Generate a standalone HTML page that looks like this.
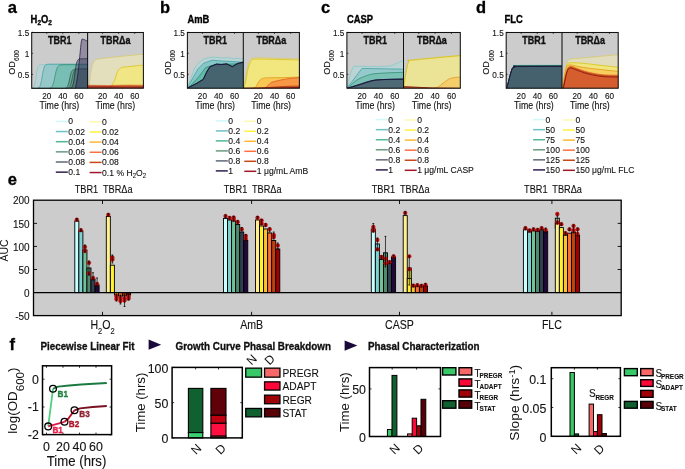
<!DOCTYPE html><html><head><meta charset="utf-8"><style>html,body{margin:0;padding:0;background:#fff;width:685px;height:469px;overflow:hidden}svg{display:block;will-change:transform}</style></head><body><svg width="685" height="469" viewBox="0 0 685 469" font-family="Liberation Sans, sans-serif">
<rect x="0.00" y="0.00" width="685.00" height="469.00" fill="#fff" stroke="none" stroke-width="0" />
<text transform="translate(7.80,12.50) scale(1,1.0)" font-size="16.5" text-anchor="start" font-weight="bold" fill="#000" stroke="#000" stroke-width="0.3" >a</text>
<text transform="translate(30.60,22.80) scale(1,1.15)" font-size="9.4" text-anchor="start" font-weight="bold" fill="#000" stroke="#000" stroke-width="0.3" >H<tspan font-size="6.5" dy="2">2</tspan><tspan dy="-2">O</tspan><tspan font-size="6.5" dy="2">2</tspan></text>
<rect x="31.70" y="32.50" width="111.70" height="55.70" fill="#cccccc" stroke="none" stroke-width="0" />
<clipPath id="clip31a"><rect x="31.7" y="32.5" width="55.89999999999999" height="55.7"/></clipPath>
<clipPath id="clip31b"><rect x="87.6" y="32.5" width="55.80000000000001" height="55.7"/></clipPath>
<g clip-path="url(#clip31a)">
<path d="M30.70,89.20 L30.70,88.53 L31.12,88.49 L31.53,88.43 L31.94,88.34 L32.36,88.19 L32.77,87.97 L33.18,87.62 L33.60,87.10 L34.01,86.33 L34.42,85.23 L34.84,83.71 L35.25,81.73 L35.66,79.34 L36.08,76.69 L36.49,74.04 L36.90,71.63 L37.32,69.62 L37.73,68.06 L38.15,66.93 L38.56,66.14 L38.97,65.61 L39.39,65.25 L39.80,65.02 L40.21,64.87 L40.63,64.77 L41.04,64.70 L41.45,64.66 L41.87,64.63 L42.28,64.61 L42.69,64.60 L43.11,64.59 L43.52,64.58 L43.94,64.58 L44.35,64.57 L44.76,64.57 L45.18,64.57 L45.59,64.56 L46.00,64.56 L46.42,64.56 L46.83,64.56 L47.24,64.55 L47.66,64.55 L48.07,64.55 L48.48,64.54 L48.90,64.54 L49.31,64.54 L49.72,64.54 L50.14,64.53 L50.55,64.53 L50.97,64.53 L51.38,64.53 L51.79,64.52 L52.21,64.52 L52.62,64.52 L53.03,64.52 L53.45,64.51 L53.86,64.51 L54.27,64.51 L54.69,64.51 L55.10,64.50 L55.51,64.50 L55.93,64.50 L56.34,64.50 L56.76,64.49 L57.17,64.49 L57.58,64.49 L58.00,64.49 L58.41,64.48 L58.82,64.48 L59.24,64.48 L59.65,64.48 L60.06,64.47 L60.48,64.47 L60.89,64.47 L61.30,64.46 L61.72,64.46 L62.13,64.46 L62.54,64.46 L62.96,64.45 L63.37,64.45 L63.79,64.45 L64.20,64.45 L64.61,64.44 L65.03,64.44 L65.44,64.44 L65.85,64.44 L66.27,64.43 L66.68,64.43 L67.09,64.43 L67.51,64.43 L67.92,64.42 L68.33,64.42 L68.75,64.42 L69.16,64.42 L69.58,64.41 L69.99,64.41 L70.40,64.41 L70.82,64.41 L71.23,64.40 L71.64,64.40 L72.06,64.40 L72.47,64.39 L72.88,64.39 L73.30,64.39 L73.71,64.39 L74.12,64.38 L74.54,64.38 L74.95,64.38 L75.36,64.38 L75.78,64.37 L76.19,64.37 L76.61,64.37 L77.02,64.37 L77.43,64.36 L77.85,64.36 L78.26,64.36 L78.67,64.36 L79.09,64.35 L79.50,64.35 L79.91,64.35 L80.33,64.35 L80.74,64.34 L81.15,64.34 L81.57,64.34 L81.98,64.34 L82.40,64.33 L82.81,64.33 L83.22,64.33 L83.64,64.32 L84.05,64.32 L84.46,64.32 L84.88,64.32 L85.29,64.31 L85.70,64.31 L86.12,64.31 L86.53,64.31 L86.94,64.30 L87.36,64.30 L87.77,64.30 L88.18,64.30 L88.60,64.29 L88.60,89.20 Z" fill="#a8dcdc" fill-opacity="0.42" stroke="none"/>
<path d="M30.70,88.53 L31.12,88.49 L31.53,88.43 L31.94,88.34 L32.36,88.19 L32.77,87.97 L33.18,87.62 L33.60,87.10 L34.01,86.33 L34.42,85.23 L34.84,83.71 L35.25,81.73 L35.66,79.34 L36.08,76.69 L36.49,74.04 L36.90,71.63 L37.32,69.62 L37.73,68.06 L38.15,66.93 L38.56,66.14 L38.97,65.61 L39.39,65.25 L39.80,65.02 L40.21,64.87 L40.63,64.77 L41.04,64.70 L41.45,64.66 L41.87,64.63 L42.28,64.61 L42.69,64.60 L43.11,64.59 L43.52,64.58 L43.94,64.58 L44.35,64.57 L44.76,64.57 L45.18,64.57 L45.59,64.56 L46.00,64.56 L46.42,64.56 L46.83,64.56 L47.24,64.55 L47.66,64.55 L48.07,64.55 L48.48,64.54 L48.90,64.54 L49.31,64.54 L49.72,64.54 L50.14,64.53 L50.55,64.53 L50.97,64.53 L51.38,64.53 L51.79,64.52 L52.21,64.52 L52.62,64.52 L53.03,64.52 L53.45,64.51 L53.86,64.51 L54.27,64.51 L54.69,64.51 L55.10,64.50 L55.51,64.50 L55.93,64.50 L56.34,64.50 L56.76,64.49 L57.17,64.49 L57.58,64.49 L58.00,64.49 L58.41,64.48 L58.82,64.48 L59.24,64.48 L59.65,64.48 L60.06,64.47 L60.48,64.47 L60.89,64.47 L61.30,64.46 L61.72,64.46 L62.13,64.46 L62.54,64.46 L62.96,64.45 L63.37,64.45 L63.79,64.45 L64.20,64.45 L64.61,64.44 L65.03,64.44 L65.44,64.44 L65.85,64.44 L66.27,64.43 L66.68,64.43 L67.09,64.43 L67.51,64.43 L67.92,64.42 L68.33,64.42 L68.75,64.42 L69.16,64.42 L69.58,64.41 L69.99,64.41 L70.40,64.41 L70.82,64.41 L71.23,64.40 L71.64,64.40 L72.06,64.40 L72.47,64.39 L72.88,64.39 L73.30,64.39 L73.71,64.39 L74.12,64.38 L74.54,64.38 L74.95,64.38 L75.36,64.38 L75.78,64.37 L76.19,64.37 L76.61,64.37 L77.02,64.37 L77.43,64.36 L77.85,64.36 L78.26,64.36 L78.67,64.36 L79.09,64.35 L79.50,64.35 L79.91,64.35 L80.33,64.35 L80.74,64.34 L81.15,64.34 L81.57,64.34 L81.98,64.34 L82.40,64.33 L82.81,64.33 L83.22,64.33 L83.64,64.32 L84.05,64.32 L84.46,64.32 L84.88,64.32 L85.29,64.31 L85.70,64.31 L86.12,64.31 L86.53,64.31 L86.94,64.30 L87.36,64.30 L87.77,64.30 L88.18,64.30 L88.60,64.29" fill="none" stroke="#7cc8c8" stroke-width="0.7" stroke-linejoin="round"/>
<path d="M30.70,89.20 L30.70,88.60 L31.12,88.60 L31.53,88.60 L31.94,88.60 L32.36,88.60 L32.77,88.60 L33.18,88.60 L33.60,88.59 L34.01,88.59 L34.42,88.59 L34.84,88.58 L35.25,88.57 L35.66,88.56 L36.08,88.54 L36.49,88.51 L36.90,88.46 L37.32,88.39 L37.73,88.29 L38.15,88.14 L38.56,87.91 L38.97,87.58 L39.39,87.11 L39.80,86.43 L40.21,85.49 L40.63,84.21 L41.04,82.57 L41.45,80.56 L41.87,78.25 L42.28,75.81 L42.69,73.40 L43.11,71.23 L43.52,69.39 L43.94,67.93 L44.35,66.82 L44.76,66.02 L45.18,65.44 L45.59,65.04 L46.00,64.77 L46.42,64.58 L46.83,64.46 L47.24,64.37 L47.66,64.32 L48.07,64.28 L48.48,64.25 L48.90,64.23 L49.31,64.22 L49.72,64.22 L50.14,64.21 L50.55,64.21 L50.97,64.20 L51.38,64.20 L51.79,64.20 L52.21,64.20 L52.62,64.20 L53.03,64.20 L53.45,64.20 L53.86,64.20 L54.27,64.20 L54.69,64.20 L55.10,64.20 L55.51,64.20 L55.93,64.20 L56.34,64.20 L56.76,64.20 L57.17,64.20 L57.58,64.20 L58.00,64.20 L58.41,64.20 L58.82,64.20 L59.24,64.20 L59.65,64.20 L60.06,64.20 L60.48,64.20 L60.89,64.20 L61.30,64.20 L61.72,64.20 L62.13,64.20 L62.54,64.20 L62.96,64.20 L63.37,64.20 L63.79,64.20 L64.20,64.20 L64.61,64.20 L65.03,64.20 L65.44,64.20 L65.85,64.20 L66.27,64.20 L66.68,64.20 L67.09,64.20 L67.51,64.20 L67.92,64.20 L68.33,64.20 L68.75,64.20 L69.16,64.20 L69.58,64.20 L69.99,64.20 L70.40,64.20 L70.82,64.20 L71.23,64.20 L71.64,64.20 L72.06,64.20 L72.47,64.20 L72.88,64.20 L73.30,64.20 L73.71,64.20 L74.12,64.20 L74.54,64.20 L74.95,64.20 L75.36,64.20 L75.78,64.20 L76.19,64.20 L76.61,64.20 L77.02,64.20 L77.43,64.20 L77.85,64.20 L78.26,64.20 L78.67,64.20 L79.09,64.20 L79.50,64.20 L79.91,64.20 L80.33,64.20 L80.74,64.20 L81.15,64.20 L81.57,64.20 L81.98,64.20 L82.40,64.20 L82.81,64.20 L83.22,64.20 L83.64,64.20 L84.05,64.20 L84.46,64.20 L84.88,64.20 L85.29,64.20 L85.70,64.20 L86.12,64.20 L86.53,64.20 L86.94,64.20 L87.36,64.20 L87.77,64.20 L88.18,64.20 L88.60,64.20 L88.60,89.20 Z" fill="#50b8bc" fill-opacity="0.35" stroke="none"/>
<path d="M30.70,88.60 L31.12,88.60 L31.53,88.60 L31.94,88.60 L32.36,88.60 L32.77,88.60 L33.18,88.60 L33.60,88.59 L34.01,88.59 L34.42,88.59 L34.84,88.58 L35.25,88.57 L35.66,88.56 L36.08,88.54 L36.49,88.51 L36.90,88.46 L37.32,88.39 L37.73,88.29 L38.15,88.14 L38.56,87.91 L38.97,87.58 L39.39,87.11 L39.80,86.43 L40.21,85.49 L40.63,84.21 L41.04,82.57 L41.45,80.56 L41.87,78.25 L42.28,75.81 L42.69,73.40 L43.11,71.23 L43.52,69.39 L43.94,67.93 L44.35,66.82 L44.76,66.02 L45.18,65.44 L45.59,65.04 L46.00,64.77 L46.42,64.58 L46.83,64.46 L47.24,64.37 L47.66,64.32 L48.07,64.28 L48.48,64.25 L48.90,64.23 L49.31,64.22 L49.72,64.22 L50.14,64.21 L50.55,64.21 L50.97,64.20 L51.38,64.20 L51.79,64.20 L52.21,64.20 L52.62,64.20 L53.03,64.20 L53.45,64.20 L53.86,64.20 L54.27,64.20 L54.69,64.20 L55.10,64.20 L55.51,64.20 L55.93,64.20 L56.34,64.20 L56.76,64.20 L57.17,64.20 L57.58,64.20 L58.00,64.20 L58.41,64.20 L58.82,64.20 L59.24,64.20 L59.65,64.20 L60.06,64.20 L60.48,64.20 L60.89,64.20 L61.30,64.20 L61.72,64.20 L62.13,64.20 L62.54,64.20 L62.96,64.20 L63.37,64.20 L63.79,64.20 L64.20,64.20 L64.61,64.20 L65.03,64.20 L65.44,64.20 L65.85,64.20 L66.27,64.20 L66.68,64.20 L67.09,64.20 L67.51,64.20 L67.92,64.20 L68.33,64.20 L68.75,64.20 L69.16,64.20 L69.58,64.20 L69.99,64.20 L70.40,64.20 L70.82,64.20 L71.23,64.20 L71.64,64.20 L72.06,64.20 L72.47,64.20 L72.88,64.20 L73.30,64.20 L73.71,64.20 L74.12,64.20 L74.54,64.20 L74.95,64.20 L75.36,64.20 L75.78,64.20 L76.19,64.20 L76.61,64.20 L77.02,64.20 L77.43,64.20 L77.85,64.20 L78.26,64.20 L78.67,64.20 L79.09,64.20 L79.50,64.20 L79.91,64.20 L80.33,64.20 L80.74,64.20 L81.15,64.20 L81.57,64.20 L81.98,64.20 L82.40,64.20 L82.81,64.20 L83.22,64.20 L83.64,64.20 L84.05,64.20 L84.46,64.20 L84.88,64.20 L85.29,64.20 L85.70,64.20 L86.12,64.20 L86.53,64.20 L86.94,64.20 L87.36,64.20 L87.77,64.20 L88.18,64.20 L88.60,64.20" fill="none" stroke="#3a9aa0" stroke-width="0.7" stroke-linejoin="round"/>
<path d="M30.70,89.20 L30.70,88.60 L31.12,88.60 L31.53,88.60 L31.94,88.60 L32.36,88.60 L32.77,88.60 L33.18,88.60 L33.60,88.60 L34.01,88.60 L34.42,88.60 L34.84,88.60 L35.25,88.60 L35.66,88.60 L36.08,88.60 L36.49,88.60 L36.90,88.60 L37.32,88.60 L37.73,88.60 L38.15,88.60 L38.56,88.60 L38.97,88.60 L39.39,88.60 L39.80,88.60 L40.21,88.60 L40.63,88.60 L41.04,88.60 L41.45,88.60 L41.87,88.60 L42.28,88.60 L42.69,88.60 L43.11,88.60 L43.52,88.60 L43.94,88.60 L44.35,88.60 L44.76,88.59 L45.18,88.59 L45.59,88.59 L46.00,88.58 L46.42,88.58 L46.83,88.57 L47.24,88.56 L47.66,88.54 L48.07,88.51 L48.48,88.48 L48.90,88.43 L49.31,88.36 L49.72,88.27 L50.14,88.14 L50.55,87.96 L50.97,87.71 L51.38,87.36 L51.79,86.90 L52.21,86.27 L52.62,85.46 L53.03,84.41 L53.45,83.10 L53.86,81.53 L54.27,79.74 L54.69,77.78 L55.10,75.76 L55.51,73.79 L55.93,71.98 L56.34,70.40 L56.76,69.07 L57.17,68.01 L57.58,67.18 L58.00,66.54 L58.41,66.07 L58.82,65.71 L59.24,65.46 L59.65,65.27 L60.06,65.13 L60.48,65.03 L60.89,64.96 L61.30,64.91 L61.72,64.87 L62.13,64.84 L62.54,64.81 L62.96,64.80 L63.37,64.78 L63.79,64.77 L64.20,64.76 L64.61,64.75 L65.03,64.75 L65.44,64.74 L65.85,64.74 L66.27,64.73 L66.68,64.73 L67.09,64.72 L67.51,64.72 L67.92,64.71 L68.33,64.71 L68.75,64.70 L69.16,64.70 L69.58,64.69 L69.99,64.69 L70.40,64.68 L70.82,64.68 L71.23,64.68 L71.64,64.67 L72.06,64.67 L72.47,64.66 L72.88,64.66 L73.30,64.65 L73.71,64.65 L74.12,64.64 L74.54,64.64 L74.95,64.64 L75.36,64.63 L75.78,64.63 L76.19,64.62 L76.61,64.62 L77.02,64.61 L77.43,64.61 L77.85,64.60 L78.26,64.60 L78.67,64.60 L79.09,64.59 L79.50,64.59 L79.91,64.58 L80.33,64.58 L80.74,64.57 L81.15,64.57 L81.57,64.56 L81.98,64.56 L82.40,64.56 L82.81,64.55 L83.22,64.55 L83.64,64.54 L84.05,64.54 L84.46,64.53 L84.88,64.53 L85.29,64.52 L85.70,64.52 L86.12,64.52 L86.53,64.51 L86.94,64.51 L87.36,64.50 L87.77,64.50 L88.18,64.49 L88.60,64.49 L88.60,89.20 Z" fill="#38a880" fill-opacity="0.3" stroke="none"/>
<path d="M30.70,88.60 L31.12,88.60 L31.53,88.60 L31.94,88.60 L32.36,88.60 L32.77,88.60 L33.18,88.60 L33.60,88.60 L34.01,88.60 L34.42,88.60 L34.84,88.60 L35.25,88.60 L35.66,88.60 L36.08,88.60 L36.49,88.60 L36.90,88.60 L37.32,88.60 L37.73,88.60 L38.15,88.60 L38.56,88.60 L38.97,88.60 L39.39,88.60 L39.80,88.60 L40.21,88.60 L40.63,88.60 L41.04,88.60 L41.45,88.60 L41.87,88.60 L42.28,88.60 L42.69,88.60 L43.11,88.60 L43.52,88.60 L43.94,88.60 L44.35,88.60 L44.76,88.59 L45.18,88.59 L45.59,88.59 L46.00,88.58 L46.42,88.58 L46.83,88.57 L47.24,88.56 L47.66,88.54 L48.07,88.51 L48.48,88.48 L48.90,88.43 L49.31,88.36 L49.72,88.27 L50.14,88.14 L50.55,87.96 L50.97,87.71 L51.38,87.36 L51.79,86.90 L52.21,86.27 L52.62,85.46 L53.03,84.41 L53.45,83.10 L53.86,81.53 L54.27,79.74 L54.69,77.78 L55.10,75.76 L55.51,73.79 L55.93,71.98 L56.34,70.40 L56.76,69.07 L57.17,68.01 L57.58,67.18 L58.00,66.54 L58.41,66.07 L58.82,65.71 L59.24,65.46 L59.65,65.27 L60.06,65.13 L60.48,65.03 L60.89,64.96 L61.30,64.91 L61.72,64.87 L62.13,64.84 L62.54,64.81 L62.96,64.80 L63.37,64.78 L63.79,64.77 L64.20,64.76 L64.61,64.75 L65.03,64.75 L65.44,64.74 L65.85,64.74 L66.27,64.73 L66.68,64.73 L67.09,64.72 L67.51,64.72 L67.92,64.71 L68.33,64.71 L68.75,64.70 L69.16,64.70 L69.58,64.69 L69.99,64.69 L70.40,64.68 L70.82,64.68 L71.23,64.68 L71.64,64.67 L72.06,64.67 L72.47,64.66 L72.88,64.66 L73.30,64.65 L73.71,64.65 L74.12,64.64 L74.54,64.64 L74.95,64.64 L75.36,64.63 L75.78,64.63 L76.19,64.62 L76.61,64.62 L77.02,64.61 L77.43,64.61 L77.85,64.60 L78.26,64.60 L78.67,64.60 L79.09,64.59 L79.50,64.59 L79.91,64.58 L80.33,64.58 L80.74,64.57 L81.15,64.57 L81.57,64.56 L81.98,64.56 L82.40,64.56 L82.81,64.55 L83.22,64.55 L83.64,64.54 L84.05,64.54 L84.46,64.53 L84.88,64.53 L85.29,64.52 L85.70,64.52 L86.12,64.52 L86.53,64.51 L86.94,64.51 L87.36,64.50 L87.77,64.50 L88.18,64.49 L88.60,64.49" fill="none" stroke="#2a8a68" stroke-width="0.7" stroke-linejoin="round"/>
<path d="M30.70,89.20 L30.70,88.60 L31.12,88.60 L31.53,88.60 L31.94,88.60 L32.36,88.60 L32.77,88.60 L33.18,88.60 L33.60,88.60 L34.01,88.60 L34.42,88.60 L34.84,88.60 L35.25,88.60 L35.66,88.60 L36.08,88.60 L36.49,88.60 L36.90,88.60 L37.32,88.60 L37.73,88.60 L38.15,88.60 L38.56,88.60 L38.97,88.60 L39.39,88.60 L39.80,88.60 L40.21,88.60 L40.63,88.60 L41.04,88.60 L41.45,88.60 L41.87,88.60 L42.28,88.60 L42.69,88.60 L43.11,88.60 L43.52,88.60 L43.94,88.60 L44.35,88.60 L44.76,88.60 L45.18,88.60 L45.59,88.60 L46.00,88.60 L46.42,88.60 L46.83,88.60 L47.24,88.60 L47.66,88.60 L48.07,88.60 L48.48,88.60 L48.90,88.60 L49.31,88.60 L49.72,88.60 L50.14,88.60 L50.55,88.60 L50.97,88.60 L51.38,88.60 L51.79,88.60 L52.21,88.60 L52.62,88.60 L53.03,88.60 L53.45,88.60 L53.86,88.60 L54.27,88.60 L54.69,88.60 L55.10,88.60 L55.51,88.60 L55.93,88.60 L56.34,88.60 L56.76,88.60 L57.17,88.60 L57.58,88.60 L58.00,88.60 L58.41,88.60 L58.82,88.60 L59.24,88.60 L59.65,88.60 L60.06,88.60 L60.48,88.60 L60.89,88.60 L61.30,88.59 L61.72,88.59 L62.13,88.59 L62.54,88.58 L62.96,88.57 L63.37,88.56 L63.79,88.54 L64.20,88.50 L64.61,88.46 L65.03,88.39 L65.44,88.28 L65.85,88.13 L66.27,87.90 L66.68,87.57 L67.09,87.10 L67.51,86.44 L67.92,85.53 L68.33,84.34 L68.75,82.85 L69.16,81.09 L69.58,79.17 L69.99,77.23 L70.40,75.41 L70.82,73.84 L71.23,72.57 L71.64,71.59 L72.06,70.86 L72.47,70.34 L72.88,69.98 L73.30,69.73 L73.71,69.55 L74.12,69.43 L74.54,69.35 L74.95,69.29 L75.36,69.25 L75.78,69.22 L76.19,69.20 L76.61,69.18 L77.02,69.17 L77.43,69.16 L77.85,69.15 L78.26,69.14 L78.67,69.13 L79.09,69.12 L79.50,69.12 L79.91,69.11 L80.33,69.10 L80.74,69.10 L81.15,69.09 L81.57,69.09 L81.98,69.08 L82.40,69.07 L82.81,69.07 L83.22,69.06 L83.64,69.06 L84.05,69.05 L84.46,69.04 L84.88,69.04 L85.29,69.03 L85.70,69.03 L86.12,69.02 L86.53,69.02 L86.94,69.01 L87.36,69.00 L87.77,69.00 L88.18,68.99 L88.60,68.99 L88.60,89.20 Z" fill="#4e8a6c" fill-opacity="0.45" stroke="none"/>
<path d="M30.70,88.60 L31.12,88.60 L31.53,88.60 L31.94,88.60 L32.36,88.60 L32.77,88.60 L33.18,88.60 L33.60,88.60 L34.01,88.60 L34.42,88.60 L34.84,88.60 L35.25,88.60 L35.66,88.60 L36.08,88.60 L36.49,88.60 L36.90,88.60 L37.32,88.60 L37.73,88.60 L38.15,88.60 L38.56,88.60 L38.97,88.60 L39.39,88.60 L39.80,88.60 L40.21,88.60 L40.63,88.60 L41.04,88.60 L41.45,88.60 L41.87,88.60 L42.28,88.60 L42.69,88.60 L43.11,88.60 L43.52,88.60 L43.94,88.60 L44.35,88.60 L44.76,88.60 L45.18,88.60 L45.59,88.60 L46.00,88.60 L46.42,88.60 L46.83,88.60 L47.24,88.60 L47.66,88.60 L48.07,88.60 L48.48,88.60 L48.90,88.60 L49.31,88.60 L49.72,88.60 L50.14,88.60 L50.55,88.60 L50.97,88.60 L51.38,88.60 L51.79,88.60 L52.21,88.60 L52.62,88.60 L53.03,88.60 L53.45,88.60 L53.86,88.60 L54.27,88.60 L54.69,88.60 L55.10,88.60 L55.51,88.60 L55.93,88.60 L56.34,88.60 L56.76,88.60 L57.17,88.60 L57.58,88.60 L58.00,88.60 L58.41,88.60 L58.82,88.60 L59.24,88.60 L59.65,88.60 L60.06,88.60 L60.48,88.60 L60.89,88.60 L61.30,88.59 L61.72,88.59 L62.13,88.59 L62.54,88.58 L62.96,88.57 L63.37,88.56 L63.79,88.54 L64.20,88.50 L64.61,88.46 L65.03,88.39 L65.44,88.28 L65.85,88.13 L66.27,87.90 L66.68,87.57 L67.09,87.10 L67.51,86.44 L67.92,85.53 L68.33,84.34 L68.75,82.85 L69.16,81.09 L69.58,79.17 L69.99,77.23 L70.40,75.41 L70.82,73.84 L71.23,72.57 L71.64,71.59 L72.06,70.86 L72.47,70.34 L72.88,69.98 L73.30,69.73 L73.71,69.55 L74.12,69.43 L74.54,69.35 L74.95,69.29 L75.36,69.25 L75.78,69.22 L76.19,69.20 L76.61,69.18 L77.02,69.17 L77.43,69.16 L77.85,69.15 L78.26,69.14 L78.67,69.13 L79.09,69.12 L79.50,69.12 L79.91,69.11 L80.33,69.10 L80.74,69.10 L81.15,69.09 L81.57,69.09 L81.98,69.08 L82.40,69.07 L82.81,69.07 L83.22,69.06 L83.64,69.06 L84.05,69.05 L84.46,69.04 L84.88,69.04 L85.29,69.03 L85.70,69.03 L86.12,69.02 L86.53,69.02 L86.94,69.01 L87.36,69.00 L87.77,69.00 L88.18,68.99 L88.60,68.99" fill="none" stroke="#2a4a48" stroke-width="0.7" stroke-linejoin="round"/>
<path d="M30.70,89.20 L30.70,88.60 L31.12,88.60 L31.53,88.60 L31.94,88.60 L32.36,88.60 L32.77,88.60 L33.18,88.60 L33.60,88.60 L34.01,88.60 L34.42,88.60 L34.84,88.60 L35.25,88.60 L35.66,88.60 L36.08,88.60 L36.49,88.60 L36.90,88.60 L37.32,88.60 L37.73,88.60 L38.15,88.60 L38.56,88.60 L38.97,88.60 L39.39,88.60 L39.80,88.60 L40.21,88.60 L40.63,88.60 L41.04,88.60 L41.45,88.60 L41.87,88.60 L42.28,88.60 L42.69,88.60 L43.11,88.60 L43.52,88.60 L43.94,88.60 L44.35,88.60 L44.76,88.60 L45.18,88.60 L45.59,88.60 L46.00,88.60 L46.42,88.60 L46.83,88.60 L47.24,88.60 L47.66,88.60 L48.07,88.60 L48.48,88.60 L48.90,88.60 L49.31,88.60 L49.72,88.60 L50.14,88.60 L50.55,88.60 L50.97,88.60 L51.38,88.60 L51.79,88.60 L52.21,88.60 L52.62,88.60 L53.03,88.60 L53.45,88.60 L53.86,88.60 L54.27,88.60 L54.69,88.60 L55.10,88.60 L55.51,88.60 L55.93,88.60 L56.34,88.60 L56.76,88.60 L57.17,88.60 L57.58,88.60 L58.00,88.60 L58.41,88.60 L58.82,88.60 L59.24,88.60 L59.65,88.60 L60.06,88.60 L60.48,88.60 L60.89,88.60 L61.30,88.60 L61.72,88.60 L62.13,88.60 L62.54,88.60 L62.96,88.60 L63.37,88.60 L63.79,88.59 L64.20,88.59 L64.61,88.59 L65.03,88.58 L65.44,88.57 L65.85,88.56 L66.27,88.54 L66.68,88.50 L67.09,88.46 L67.51,88.39 L67.92,88.28 L68.33,88.13 L68.75,87.90 L69.16,87.58 L69.58,87.10 L69.99,86.44 L70.40,85.53 L70.82,84.34 L71.23,82.84 L71.64,81.08 L72.06,79.14 L72.47,77.18 L72.88,75.34 L73.30,73.74 L73.71,72.44 L74.12,71.44 L74.54,70.70 L74.95,70.17 L75.36,69.80 L75.78,69.54 L76.19,69.36 L76.61,69.24 L77.02,69.15 L77.43,69.09 L77.85,69.04 L78.26,69.01 L78.67,68.99 L79.09,68.97 L79.50,68.96 L79.91,68.94 L80.33,68.93 L80.74,68.92 L81.15,68.92 L81.57,68.91 L81.98,68.90 L82.40,68.89 L82.81,68.88 L83.22,68.88 L83.64,68.87 L84.05,68.86 L84.46,68.85 L84.88,68.85 L85.29,68.84 L85.70,68.83 L86.12,68.83 L86.53,68.82 L86.94,68.81 L87.36,68.80 L87.77,68.80 L88.18,68.79 L88.60,68.78 L88.60,89.20 Z" fill="#4e8a6c" fill-opacity="0.4" stroke="none"/>
<path d="M30.70,88.60 L31.12,88.60 L31.53,88.60 L31.94,88.60 L32.36,88.60 L32.77,88.60 L33.18,88.60 L33.60,88.60 L34.01,88.60 L34.42,88.60 L34.84,88.60 L35.25,88.60 L35.66,88.60 L36.08,88.60 L36.49,88.60 L36.90,88.60 L37.32,88.60 L37.73,88.60 L38.15,88.60 L38.56,88.60 L38.97,88.60 L39.39,88.60 L39.80,88.60 L40.21,88.60 L40.63,88.60 L41.04,88.60 L41.45,88.60 L41.87,88.60 L42.28,88.60 L42.69,88.60 L43.11,88.60 L43.52,88.60 L43.94,88.60 L44.35,88.60 L44.76,88.60 L45.18,88.60 L45.59,88.60 L46.00,88.60 L46.42,88.60 L46.83,88.60 L47.24,88.60 L47.66,88.60 L48.07,88.60 L48.48,88.60 L48.90,88.60 L49.31,88.60 L49.72,88.60 L50.14,88.60 L50.55,88.60 L50.97,88.60 L51.38,88.60 L51.79,88.60 L52.21,88.60 L52.62,88.60 L53.03,88.60 L53.45,88.60 L53.86,88.60 L54.27,88.60 L54.69,88.60 L55.10,88.60 L55.51,88.60 L55.93,88.60 L56.34,88.60 L56.76,88.60 L57.17,88.60 L57.58,88.60 L58.00,88.60 L58.41,88.60 L58.82,88.60 L59.24,88.60 L59.65,88.60 L60.06,88.60 L60.48,88.60 L60.89,88.60 L61.30,88.60 L61.72,88.60 L62.13,88.60 L62.54,88.60 L62.96,88.60 L63.37,88.60 L63.79,88.59 L64.20,88.59 L64.61,88.59 L65.03,88.58 L65.44,88.57 L65.85,88.56 L66.27,88.54 L66.68,88.50 L67.09,88.46 L67.51,88.39 L67.92,88.28 L68.33,88.13 L68.75,87.90 L69.16,87.58 L69.58,87.10 L69.99,86.44 L70.40,85.53 L70.82,84.34 L71.23,82.84 L71.64,81.08 L72.06,79.14 L72.47,77.18 L72.88,75.34 L73.30,73.74 L73.71,72.44 L74.12,71.44 L74.54,70.70 L74.95,70.17 L75.36,69.80 L75.78,69.54 L76.19,69.36 L76.61,69.24 L77.02,69.15 L77.43,69.09 L77.85,69.04 L78.26,69.01 L78.67,68.99 L79.09,68.97 L79.50,68.96 L79.91,68.94 L80.33,68.93 L80.74,68.92 L81.15,68.92 L81.57,68.91 L81.98,68.90 L82.40,68.89 L82.81,68.88 L83.22,68.88 L83.64,68.87 L84.05,68.86 L84.46,68.85 L84.88,68.85 L85.29,68.84 L85.70,68.83 L86.12,68.83 L86.53,68.82 L86.94,68.81 L87.36,68.80 L87.77,68.80 L88.18,68.79 L88.60,68.78" fill="none" stroke="#2a4a48" stroke-width="0.7" stroke-linejoin="round"/>
<path d="M30.70,89.20 L30.70,88.60 L31.12,88.60 L31.53,88.60 L31.94,88.60 L32.36,88.60 L32.77,88.60 L33.18,88.60 L33.60,88.60 L34.01,88.60 L34.42,88.60 L34.84,88.60 L35.25,88.60 L35.66,88.60 L36.08,88.60 L36.49,88.60 L36.90,88.60 L37.32,88.60 L37.73,88.60 L38.15,88.60 L38.56,88.60 L38.97,88.60 L39.39,88.60 L39.80,88.60 L40.21,88.60 L40.63,88.60 L41.04,88.60 L41.45,88.60 L41.87,88.60 L42.28,88.60 L42.69,88.60 L43.11,88.60 L43.52,88.60 L43.94,88.60 L44.35,88.60 L44.76,88.60 L45.18,88.60 L45.59,88.60 L46.00,88.60 L46.42,88.60 L46.83,88.60 L47.24,88.60 L47.66,88.60 L48.07,88.60 L48.48,88.60 L48.90,88.60 L49.31,88.60 L49.72,88.60 L50.14,88.60 L50.55,88.60 L50.97,88.60 L51.38,88.60 L51.79,88.60 L52.21,88.60 L52.62,88.60 L53.03,88.60 L53.45,88.60 L53.86,88.60 L54.27,88.60 L54.69,88.60 L55.10,88.60 L55.51,88.60 L55.93,88.60 L56.34,88.60 L56.76,88.60 L57.17,88.60 L57.58,88.60 L58.00,88.60 L58.41,88.60 L58.82,88.60 L59.24,88.60 L59.65,88.60 L60.06,88.60 L60.48,88.60 L60.89,88.60 L61.30,88.60 L61.72,88.60 L62.13,88.60 L62.54,88.60 L62.96,88.60 L63.37,88.60 L63.79,88.60 L64.20,88.60 L64.61,88.60 L65.03,88.60 L65.44,88.60 L65.85,88.60 L66.27,88.60 L66.68,88.59 L67.09,88.59 L67.51,88.59 L67.92,88.58 L68.33,88.57 L68.75,88.55 L69.16,88.52 L69.58,88.48 L69.99,88.42 L70.40,88.32 L70.82,88.17 L71.23,87.95 L71.64,87.60 L72.06,87.10 L72.47,86.35 L72.88,85.27 L73.30,83.77 L73.71,81.76 L74.12,79.23 L74.54,76.28 L74.95,73.09 L75.36,69.96 L75.78,67.15 L76.19,64.82 L76.61,63.01 L77.02,61.68 L77.43,60.74 L77.85,60.09 L78.26,59.65 L78.67,59.36 L79.09,59.15 L79.50,59.02 L79.91,58.93 L80.33,58.86 L80.74,58.82 L81.15,58.79 L81.57,58.76 L81.98,58.74 L82.40,58.73 L82.81,58.71 L83.22,58.70 L83.64,58.69 L84.05,58.68 L84.46,58.67 L84.88,58.66 L85.29,58.65 L85.70,58.64 L86.12,58.63 L86.53,58.62 L86.94,58.61 L87.36,58.61 L87.77,58.60 L88.18,58.59 L88.60,58.58 L88.60,89.20 Z" fill="#4a5868" fill-opacity="0.45" stroke="none"/>
<path d="M30.70,88.60 L31.12,88.60 L31.53,88.60 L31.94,88.60 L32.36,88.60 L32.77,88.60 L33.18,88.60 L33.60,88.60 L34.01,88.60 L34.42,88.60 L34.84,88.60 L35.25,88.60 L35.66,88.60 L36.08,88.60 L36.49,88.60 L36.90,88.60 L37.32,88.60 L37.73,88.60 L38.15,88.60 L38.56,88.60 L38.97,88.60 L39.39,88.60 L39.80,88.60 L40.21,88.60 L40.63,88.60 L41.04,88.60 L41.45,88.60 L41.87,88.60 L42.28,88.60 L42.69,88.60 L43.11,88.60 L43.52,88.60 L43.94,88.60 L44.35,88.60 L44.76,88.60 L45.18,88.60 L45.59,88.60 L46.00,88.60 L46.42,88.60 L46.83,88.60 L47.24,88.60 L47.66,88.60 L48.07,88.60 L48.48,88.60 L48.90,88.60 L49.31,88.60 L49.72,88.60 L50.14,88.60 L50.55,88.60 L50.97,88.60 L51.38,88.60 L51.79,88.60 L52.21,88.60 L52.62,88.60 L53.03,88.60 L53.45,88.60 L53.86,88.60 L54.27,88.60 L54.69,88.60 L55.10,88.60 L55.51,88.60 L55.93,88.60 L56.34,88.60 L56.76,88.60 L57.17,88.60 L57.58,88.60 L58.00,88.60 L58.41,88.60 L58.82,88.60 L59.24,88.60 L59.65,88.60 L60.06,88.60 L60.48,88.60 L60.89,88.60 L61.30,88.60 L61.72,88.60 L62.13,88.60 L62.54,88.60 L62.96,88.60 L63.37,88.60 L63.79,88.60 L64.20,88.60 L64.61,88.60 L65.03,88.60 L65.44,88.60 L65.85,88.60 L66.27,88.60 L66.68,88.59 L67.09,88.59 L67.51,88.59 L67.92,88.58 L68.33,88.57 L68.75,88.55 L69.16,88.52 L69.58,88.48 L69.99,88.42 L70.40,88.32 L70.82,88.17 L71.23,87.95 L71.64,87.60 L72.06,87.10 L72.47,86.35 L72.88,85.27 L73.30,83.77 L73.71,81.76 L74.12,79.23 L74.54,76.28 L74.95,73.09 L75.36,69.96 L75.78,67.15 L76.19,64.82 L76.61,63.01 L77.02,61.68 L77.43,60.74 L77.85,60.09 L78.26,59.65 L78.67,59.36 L79.09,59.15 L79.50,59.02 L79.91,58.93 L80.33,58.86 L80.74,58.82 L81.15,58.79 L81.57,58.76 L81.98,58.74 L82.40,58.73 L82.81,58.71 L83.22,58.70 L83.64,58.69 L84.05,58.68 L84.46,58.67 L84.88,58.66 L85.29,58.65 L85.70,58.64 L86.12,58.63 L86.53,58.62 L86.94,58.61 L87.36,58.61 L87.77,58.60 L88.18,58.59 L88.60,58.58" fill="none" stroke="#1a2438" stroke-width="0.7" stroke-linejoin="round"/>
<path d="M30.70,89.20 L30.70,88.60 L35.71,88.63 L43.01,88.68 L51.48,88.74 L59.98,88.76 L67.41,88.73 L72.63,88.60 L75.39,88.46 L76.55,88.33 L76.62,88.15 L76.14,87.82 L75.63,87.27 L75.62,86.40 L76.01,85.24 L76.36,83.87 L76.68,82.27 L76.98,80.43 L77.29,78.34 L77.62,76.00 L77.96,73.26 L78.32,70.10 L78.68,66.70 L79.03,63.22 L79.38,59.83 L79.71,56.70 L80.03,53.67 L80.33,50.58 L80.62,47.58 L80.92,44.82 L81.21,42.48 L81.51,40.70 L81.81,39.60 L82.09,39.08 L82.38,38.97 L82.68,39.10 L83.02,39.30 L83.41,39.40 L83.87,39.47 L84.39,39.66 L84.94,39.92 L85.50,40.21 L86.03,40.48 L86.50,40.70 L86.93,40.87 L87.35,41.03 L87.74,41.18 L88.09,41.31 L88.38,41.42 L88.60,41.50 L88.60,89.20 Z" fill="#2a1850" fill-opacity="0.35" stroke="none"/>
<path d="M30.70,88.60 L35.71,88.63 L43.01,88.68 L51.48,88.74 L59.98,88.76 L67.41,88.73 L72.63,88.60 L75.39,88.46 L76.55,88.33 L76.62,88.15 L76.14,87.82 L75.63,87.27 L75.62,86.40 L76.01,85.24 L76.36,83.87 L76.68,82.27 L76.98,80.43 L77.29,78.34 L77.62,76.00 L77.96,73.26 L78.32,70.10 L78.68,66.70 L79.03,63.22 L79.38,59.83 L79.71,56.70 L80.03,53.67 L80.33,50.58 L80.62,47.58 L80.92,44.82 L81.21,42.48 L81.51,40.70 L81.81,39.60 L82.09,39.08 L82.38,38.97 L82.68,39.10 L83.02,39.30 L83.41,39.40 L83.87,39.47 L84.39,39.66 L84.94,39.92 L85.50,40.21 L86.03,40.48 L86.50,40.70 L86.93,40.87 L87.35,41.03 L87.74,41.18 L88.09,41.31 L88.38,41.42 L88.60,41.50" fill="none" stroke="#1a0c3a" stroke-width="0.7" stroke-linejoin="round"/>
</g>
<g clip-path="url(#clip31b)">
<path d="M86.60,89.20 L86.60,89.00 L86.85,88.80 L87.21,88.57 L87.62,88.28 L88.05,87.87 L88.46,87.29 L88.80,86.50 L89.06,85.45 L89.29,84.17 L89.49,82.72 L89.68,81.17 L89.87,79.57 L90.09,78.00 L90.33,76.36 L90.57,74.59 L90.83,72.78 L91.08,71.02 L91.33,69.39 L91.59,68.00 L91.82,66.86 L92.05,65.90 L92.27,65.08 L92.51,64.35 L92.77,63.67 L93.08,63.00 L93.42,62.34 L93.78,61.72 L94.17,61.15 L94.59,60.64 L95.06,60.19 L95.57,59.80 L95.99,59.52 L96.27,59.34 L96.60,59.22 L97.14,59.13 L98.07,59.00 L99.56,58.80 L101.64,58.53 L104.17,58.24 L107.09,57.91 L110.33,57.56 L113.82,57.19 L117.49,56.80 L121.77,56.35 L126.79,55.82 L132.07,55.27 L137.09,54.76 L141.37,54.31 L144.40,54.00 L144.40,89.20 Z" fill="#fff4a8" fill-opacity="0.45" stroke="none"/>
<path d="M86.60,89.00 L86.85,88.80 L87.21,88.57 L87.62,88.28 L88.05,87.87 L88.46,87.29 L88.80,86.50 L89.06,85.45 L89.29,84.17 L89.49,82.72 L89.68,81.17 L89.87,79.57 L90.09,78.00 L90.33,76.36 L90.57,74.59 L90.83,72.78 L91.08,71.02 L91.33,69.39 L91.59,68.00 L91.82,66.86 L92.05,65.90 L92.27,65.08 L92.51,64.35 L92.77,63.67 L93.08,63.00 L93.42,62.34 L93.78,61.72 L94.17,61.15 L94.59,60.64 L95.06,60.19 L95.57,59.80 L95.99,59.52 L96.27,59.34 L96.60,59.22 L97.14,59.13 L98.07,59.00 L99.56,58.80 L101.64,58.53 L104.17,58.24 L107.09,57.91 L110.33,57.56 L113.82,57.19 L117.49,56.80 L121.77,56.35 L126.79,55.82 L132.07,55.27 L137.09,54.76 L141.37,54.31 L144.40,54.00" fill="none" stroke="#d8c860" stroke-width="0.7" stroke-linejoin="round"/>
<path d="M86.60,89.20 L86.60,88.30 L89.33,88.29 L93.31,88.30 L97.91,88.31 L102.55,88.27 L106.62,88.18 L109.52,88.00 L111.10,87.75 L111.82,87.46 L111.96,87.11 L111.83,86.67 L111.72,86.14 L111.91,85.50 L112.39,84.71 L112.90,83.78 L113.43,82.75 L113.95,81.67 L114.45,80.57 L114.90,79.50 L115.31,78.41 L115.67,77.26 L116.02,76.09 L116.35,74.96 L116.67,73.92 L116.99,73.00 L117.31,72.23 L117.60,71.56 L117.89,70.97 L118.18,70.44 L118.51,69.96 L118.89,69.50 L119.29,69.06 L119.71,68.67 L120.15,68.33 L120.65,68.01 L121.22,67.74 L121.88,67.50 L122.53,67.32 L123.12,67.21 L123.80,67.14 L124.66,67.07 L125.84,66.97 L127.46,66.80 L129.82,66.54 L132.89,66.21 L136.28,65.86 L139.58,65.51 L142.42,65.21 L144.40,65.00 L144.40,89.20 Z" fill="#fff040" fill-opacity="0.45" stroke="none"/>
<path d="M86.60,88.30 L89.33,88.29 L93.31,88.30 L97.91,88.31 L102.55,88.27 L106.62,88.18 L109.52,88.00 L111.10,87.75 L111.82,87.46 L111.96,87.11 L111.83,86.67 L111.72,86.14 L111.91,85.50 L112.39,84.71 L112.90,83.78 L113.43,82.75 L113.95,81.67 L114.45,80.57 L114.90,79.50 L115.31,78.41 L115.67,77.26 L116.02,76.09 L116.35,74.96 L116.67,73.92 L116.99,73.00 L117.31,72.23 L117.60,71.56 L117.89,70.97 L118.18,70.44 L118.51,69.96 L118.89,69.50 L119.29,69.06 L119.71,68.67 L120.15,68.33 L120.65,68.01 L121.22,67.74 L121.88,67.50 L122.53,67.32 L123.12,67.21 L123.80,67.14 L124.66,67.07 L125.84,66.97 L127.46,66.80 L129.82,66.54 L132.89,66.21 L136.28,65.86 L139.58,65.51 L142.42,65.21 L144.40,65.00" fill="none" stroke="#d8c000" stroke-width="0.7" stroke-linejoin="round"/>
<path d="M86.60,89.20 L86.60,85.30 L107.53,85.50 L127.46,85.20 L144.40,85.30 L144.40,89.20 Z" fill="#f87038" fill-opacity="0.45" stroke="none"/>
<path d="M86.60,85.30 L107.53,85.50 L127.46,85.20 L144.40,85.30" fill="none" stroke="#d85020" stroke-width="0.7" stroke-linejoin="round"/>
<path d="M86.60,89.20 L86.60,86.00 L107.53,86.50 L127.46,86.00 L144.40,86.40 L144.40,89.20 Z" fill="#d04818" fill-opacity="0.45" stroke="none"/>
<path d="M86.60,86.00 L107.53,86.50 L127.46,86.00 L144.40,86.40" fill="none" stroke="#a83008" stroke-width="0.7" stroke-linejoin="round"/>
<path d="M86.60,89.20 L86.60,87.00 L144.40,87.20 L144.40,89.20 Z" fill="#a0142a" fill-opacity="0.45" stroke="none"/>
<path d="M86.60,87.00 L144.40,87.20" fill="none" stroke="#800010" stroke-width="0.7" stroke-linejoin="round"/>
</g>
<rect x="31.7" y="32.5" width="111.7" height="55.7" fill="none" stroke="#111" stroke-width="1.05"/>
<line x1="87.60" y1="32.50" x2="87.60" y2="88.20" stroke="#111" stroke-width="1.05" />
<line x1="46.70" y1="32.50" x2="46.70" y2="34.00" stroke="#000" stroke-width="0.6" />
<text transform="translate(46.70,98.70) scale(1,1.15)" font-size="8.2" text-anchor="middle" font-weight="normal" fill="#111" stroke="#111" stroke-width="0.1" >20</text>
<line x1="62.80" y1="32.50" x2="62.80" y2="34.00" stroke="#000" stroke-width="0.6" />
<text transform="translate(62.80,98.70) scale(1,1.15)" font-size="8.2" text-anchor="middle" font-weight="normal" fill="#111" stroke="#111" stroke-width="0.1" >40</text>
<line x1="78.90" y1="32.50" x2="78.90" y2="34.00" stroke="#000" stroke-width="0.6" />
<text transform="translate(78.90,98.70) scale(1,1.15)" font-size="8.2" text-anchor="middle" font-weight="normal" fill="#111" stroke="#111" stroke-width="0.1" >60</text>
<text transform="translate(59.45,108.60) scale(1,1.15)" font-size="8.8" text-anchor="middle" font-weight="normal" fill="#111" stroke="#111" stroke-width="0.1" >Time (hrs)</text>
<line x1="102.57" y1="32.50" x2="102.57" y2="34.00" stroke="#000" stroke-width="0.6" />
<text transform="translate(102.57,98.70) scale(1,1.15)" font-size="8.2" text-anchor="middle" font-weight="normal" fill="#111" stroke="#111" stroke-width="0.1" >20</text>
<line x1="118.64" y1="32.50" x2="118.64" y2="34.00" stroke="#000" stroke-width="0.6" />
<text transform="translate(118.64,98.70) scale(1,1.15)" font-size="8.2" text-anchor="middle" font-weight="normal" fill="#111" stroke="#111" stroke-width="0.1" >40</text>
<line x1="134.72" y1="32.50" x2="134.72" y2="34.00" stroke="#000" stroke-width="0.6" />
<text transform="translate(134.72,98.70) scale(1,1.15)" font-size="8.2" text-anchor="middle" font-weight="normal" fill="#111" stroke="#111" stroke-width="0.1" >60</text>
<text transform="translate(115.30,108.60) scale(1,1.15)" font-size="8.8" text-anchor="middle" font-weight="normal" fill="#111" stroke="#111" stroke-width="0.1" >Time (hrs)</text>
<line x1="31.70" y1="32.30" x2="33.20" y2="32.30" stroke="#000" stroke-width="0.6" />
<text transform="translate(29.20,35.90) scale(1,1.15)" font-size="8.2" text-anchor="end" font-weight="normal" fill="#111" stroke="#111" stroke-width="0.1" >1.5</text>
<line x1="31.70" y1="53.30" x2="33.20" y2="53.30" stroke="#000" stroke-width="0.6" />
<text transform="translate(29.20,56.90) scale(1,1.15)" font-size="8.2" text-anchor="end" font-weight="normal" fill="#111" stroke="#111" stroke-width="0.1" >1</text>
<line x1="31.70" y1="74.30" x2="33.20" y2="74.30" stroke="#000" stroke-width="0.6" />
<text transform="translate(29.20,77.90) scale(1,1.15)" font-size="8.2" text-anchor="end" font-weight="normal" fill="#111" stroke="#111" stroke-width="0.1" >0.5</text>
<text transform="translate(59.65,43.60) scale(1,1.15)" font-size="9" text-anchor="middle" font-weight="bold" fill="#111" stroke="#111" stroke-width="0.3" >TBR1</text>
<text transform="translate(115.50,43.60) scale(1,1.15)" font-size="9" text-anchor="middle" font-weight="bold" fill="#111" stroke="#111" stroke-width="0.3" >TBRΔa</text>
<text transform="translate(14.899999999999999,62.4) rotate(-90)" font-size="9.2" text-anchor="middle" fill="#111" stroke="#111" stroke-width="0.1">OD<tspan font-size="6.6" dy="4.3">600</tspan></text>
<line x1="55.80" y1="121.40" x2="67.80" y2="121.40" stroke="#d0f8f8" stroke-width="1.5" />
<text transform="translate(68.30,124.40) scale(1,1.15)" font-size="8.6" text-anchor="start" font-weight="normal" fill="#111" stroke="#111" stroke-width="0.1" >0</text>
<line x1="89.60" y1="121.80" x2="101.60" y2="121.80" stroke="#fff8b0" stroke-width="1.5" />
<text transform="translate(102.10,124.80) scale(1,1.15)" font-size="8.6" text-anchor="start" font-weight="normal" fill="#111" stroke="#111" stroke-width="0.1" >0</text>
<line x1="55.80" y1="131.55" x2="67.80" y2="131.55" stroke="#70c0c8" stroke-width="1.5" />
<text transform="translate(68.30,134.55) scale(1,1.15)" font-size="8.6" text-anchor="start" font-weight="normal" fill="#111" stroke="#111" stroke-width="0.1" >0.02</text>
<line x1="89.60" y1="131.95" x2="101.60" y2="131.95" stroke="#fff040" stroke-width="1.5" />
<text transform="translate(102.10,134.95) scale(1,1.15)" font-size="8.6" text-anchor="start" font-weight="normal" fill="#111" stroke="#111" stroke-width="0.1" >0.02</text>
<line x1="55.80" y1="141.70" x2="67.80" y2="141.70" stroke="#50b890" stroke-width="1.5" />
<text transform="translate(68.30,144.70) scale(1,1.15)" font-size="8.6" text-anchor="start" font-weight="normal" fill="#111" stroke="#111" stroke-width="0.1" >0.04</text>
<line x1="89.60" y1="142.10" x2="101.60" y2="142.10" stroke="#ffb830" stroke-width="1.5" />
<text transform="translate(102.10,145.10) scale(1,1.15)" font-size="8.6" text-anchor="start" font-weight="normal" fill="#111" stroke="#111" stroke-width="0.1" >0.04</text>
<line x1="55.80" y1="151.85" x2="67.80" y2="151.85" stroke="#6a9a80" stroke-width="1.5" />
<text transform="translate(68.30,154.85) scale(1,1.15)" font-size="8.6" text-anchor="start" font-weight="normal" fill="#111" stroke="#111" stroke-width="0.1" >0.06</text>
<line x1="89.60" y1="152.25" x2="101.60" y2="152.25" stroke="#ff7040" stroke-width="1.5" />
<text transform="translate(102.10,155.25) scale(1,1.15)" font-size="8.6" text-anchor="start" font-weight="normal" fill="#111" stroke="#111" stroke-width="0.1" >0.06</text>
<line x1="55.80" y1="162.00" x2="67.80" y2="162.00" stroke="#606878" stroke-width="1.5" />
<text transform="translate(68.30,165.00) scale(1,1.15)" font-size="8.6" text-anchor="start" font-weight="normal" fill="#111" stroke="#111" stroke-width="0.1" >0.08</text>
<line x1="89.60" y1="162.40" x2="101.60" y2="162.40" stroke="#c84818" stroke-width="1.5" />
<text transform="translate(102.10,165.40) scale(1,1.15)" font-size="8.6" text-anchor="start" font-weight="normal" fill="#111" stroke="#111" stroke-width="0.1" >0.08</text>
<line x1="55.80" y1="172.15" x2="67.80" y2="172.15" stroke="#302050" stroke-width="1.5" />
<text transform="translate(68.30,175.15) scale(1,1.15)" font-size="8.6" text-anchor="start" font-weight="normal" fill="#111" stroke="#111" stroke-width="0.1" >0.1</text>
<line x1="89.60" y1="172.55" x2="101.60" y2="172.55" stroke="#a01828" stroke-width="1.5" />
<text transform="translate(102.10,175.55) scale(1,1.15)" font-size="8.6" text-anchor="start" font-weight="normal" fill="#111" stroke="#111" stroke-width="0.1" >0.1 % H<tspan font-size="6" dy="2">2</tspan><tspan dy="-2">O</tspan><tspan font-size="6" dy="2">2</tspan></text>
<text transform="translate(160.00,12.50) scale(1,1.0)" font-size="16.5" text-anchor="start" font-weight="bold" fill="#000" stroke="#000" stroke-width="0.3" >b</text>
<text transform="translate(187.40,22.80) scale(1,1.15)" font-size="9.4" text-anchor="start" font-weight="bold" fill="#000" stroke="#000" stroke-width="0.3" >AmB</text>
<rect x="187.40" y="32.50" width="112.00" height="55.70" fill="#cccccc" stroke="none" stroke-width="0" />
<clipPath id="clip187a"><rect x="187.4" y="32.5" width="55.900000000000006" height="55.7"/></clipPath>
<clipPath id="clip187b"><rect x="243.3" y="32.5" width="56.099999999999966" height="55.7"/></clipPath>
<g clip-path="url(#clip187a)">
<path d="M186.40,89.20 L186.40,89.00 L187.46,87.90 L191.69,76.20 L194.89,67.60 L198.08,63.40 L203.37,59.10 L211.96,57.00 L217.35,57.50 L222.54,58.00 L227.33,57.60 L233.22,58.70 L237.31,58.20 L244.30,59.10 L244.30,89.20 Z" fill="#a8dcdc" fill-opacity="0.5" stroke="none"/>
<path d="M186.40,89.00 L187.46,87.90 L191.69,76.20 L194.89,67.60 L198.08,63.40 L203.37,59.10 L211.96,57.00 L217.35,57.50 L222.54,58.00 L227.33,57.60 L233.22,58.70 L237.31,58.20 L244.30,59.10" fill="none" stroke="#7cc8c8" stroke-width="0.7" stroke-linejoin="round"/>
<path d="M186.40,89.20 L186.40,89.00 L187.46,87.90 L193.79,76.20 L198.08,68.70 L203.37,63.40 L211.96,60.20 L222.34,61.00 L232.32,61.50 L244.30,62.30 L244.30,89.20 Z" fill="#50b8bc" fill-opacity="0.5" stroke="none"/>
<path d="M186.40,89.00 L187.46,87.90 L193.79,76.20 L198.08,68.70 L203.37,63.40 L211.96,60.20 L222.34,61.00 L232.32,61.50 L244.30,62.30" fill="none" stroke="#3a9aa0" stroke-width="0.7" stroke-linejoin="round"/>
<path d="M186.40,89.20 L186.40,89.00 L188.50,88.00 L199.18,76.20 L205.57,67.60 L211.96,65.50 L222.34,64.50 L232.32,64.00 L244.30,63.40 L244.30,89.20 Z" fill="#38a880" fill-opacity="0.45" stroke="none"/>
<path d="M186.40,89.00 L188.50,88.00 L199.18,76.20 L205.57,67.60 L211.96,65.50 L222.34,64.50 L232.32,64.00 L244.30,63.40" fill="none" stroke="#2a8a68" stroke-width="0.7" stroke-linejoin="round"/>
<path d="M186.40,89.20 L186.40,89.00 L187.50,88.00 L197.08,83.50 L203.37,79.50 L206.67,72.20 L209.86,67.00 L216.25,64.30 L221.34,64.50 L226.83,64.00 L232.22,66.20 L237.51,63.80 L244.30,62.00 L244.30,89.20 Z" fill="#4e8a6c" fill-opacity="0.45" stroke="none"/>
<path d="M186.40,89.00 L187.50,88.00 L197.08,83.50 L203.37,79.50 L206.67,72.20 L209.86,67.00 L216.25,64.30 L221.34,64.50 L226.83,64.00 L232.22,66.20 L237.51,63.80 L244.30,62.00" fill="none" stroke="#2a4a48" stroke-width="0.7" stroke-linejoin="round"/>
<path d="M186.40,89.20 L186.40,89.00 L187.50,88.00 L197.08,83.00 L203.37,79.00 L206.67,71.90 L209.86,66.60 L216.25,64.00 L221.34,64.30 L226.83,63.80 L232.22,66.60 L237.51,63.40 L244.30,61.70 L244.30,89.20 Z" fill="#4a5868" fill-opacity="0.4" stroke="none"/>
<path d="M186.40,89.00 L187.50,88.00 L197.08,83.00 L203.37,79.00 L206.67,71.90 L209.86,66.60 L216.25,64.00 L221.34,64.30 L226.83,63.80 L232.22,66.60 L237.51,63.40 L244.30,61.70" fill="none" stroke="#1a2438" stroke-width="0.7" stroke-linejoin="round"/>
<path d="M186.40,89.20 L186.40,89.00 L187.50,88.00 L197.08,83.30 L203.37,79.30 L206.67,72.00 L209.86,66.80 L216.25,64.20 L221.34,64.60 L226.83,64.00 L232.22,66.80 L237.51,63.60 L244.30,61.90 L244.30,89.20 Z" fill="#2a1850" fill-opacity="0.3" stroke="none"/>
<path d="M186.40,89.00 L187.50,88.00 L197.08,83.30 L203.37,79.30 L206.67,72.00 L209.86,66.80 L216.25,64.20 L221.34,64.60 L226.83,64.00 L232.22,66.80 L237.51,63.60 L244.30,61.90" fill="none" stroke="#1a0c3a" stroke-width="0.7" stroke-linejoin="round"/>
</g>
<g clip-path="url(#clip187b)">
<path d="M242.30,89.20 L242.30,89.00 L242.47,88.98 L242.71,89.01 L242.99,88.95 L243.29,88.66 L243.60,88.00 L243.90,86.94 L244.21,85.59 L244.55,83.97 L244.91,82.10 L245.30,80.00 L245.75,77.46 L246.25,74.45 L246.77,71.31 L247.29,68.38 L247.81,66.00 L248.30,64.22 L248.79,62.82 L249.27,61.71 L249.78,60.80 L250.31,60.00 L250.77,59.35 L251.14,58.91 L251.59,58.62 L252.26,58.40 L253.32,58.20 L254.71,58.01 L256.34,57.88 L258.27,57.81 L260.58,57.78 L263.34,57.80 L266.75,57.89 L270.77,58.06 L275.09,58.27 L279.40,58.46 L283.37,58.60 L287.24,58.68 L291.22,58.73 L294.96,58.76 L298.13,58.78 L300.40,58.80 L300.40,89.20 Z" fill="#fff4a8" fill-opacity="0.45" stroke="none"/>
<path d="M242.30,89.00 L242.47,88.98 L242.71,89.01 L242.99,88.95 L243.29,88.66 L243.60,88.00 L243.90,86.94 L244.21,85.59 L244.55,83.97 L244.91,82.10 L245.30,80.00 L245.75,77.46 L246.25,74.45 L246.77,71.31 L247.29,68.38 L247.81,66.00 L248.30,64.22 L248.79,62.82 L249.27,61.71 L249.78,60.80 L250.31,60.00 L250.77,59.35 L251.14,58.91 L251.59,58.62 L252.26,58.40 L253.32,58.20 L254.71,58.01 L256.34,57.88 L258.27,57.81 L260.58,57.78 L263.34,57.80 L266.75,57.89 L270.77,58.06 L275.09,58.27 L279.40,58.46 L283.37,58.60 L287.24,58.68 L291.22,58.73 L294.96,58.76 L298.13,58.78 L300.40,58.80" fill="none" stroke="#d8c860" stroke-width="0.7" stroke-linejoin="round"/>
<path d="M242.30,89.20 L242.30,89.00 L242.49,89.01 L242.77,89.09 L243.09,89.09 L243.44,88.87 L243.80,88.30 L244.16,87.35 L244.54,86.13 L244.94,84.65 L245.36,82.93 L245.80,81.00 L246.27,78.67 L246.75,75.92 L247.25,73.04 L247.77,70.31 L248.31,68.00 L248.88,66.13 L249.48,64.52 L250.09,63.14 L250.71,61.97 L251.31,61.00 L251.74,60.28 L251.99,59.82 L252.32,59.54 L253.01,59.36 L254.32,59.20 L256.13,59.07 L258.27,59.03 L260.91,59.06 L264.21,59.12 L268.34,59.20 L274.11,59.32 L281.41,59.50 L289.02,59.70 L295.75,59.88 L300.40,60.00 L300.40,89.20 Z" fill="#fff040" fill-opacity="0.5" stroke="none"/>
<path d="M242.30,89.00 L242.49,89.01 L242.77,89.09 L243.09,89.09 L243.44,88.87 L243.80,88.30 L244.16,87.35 L244.54,86.13 L244.94,84.65 L245.36,82.93 L245.80,81.00 L246.27,78.67 L246.75,75.92 L247.25,73.04 L247.77,70.31 L248.31,68.00 L248.88,66.13 L249.48,64.52 L250.09,63.14 L250.71,61.97 L251.31,61.00 L251.74,60.28 L251.99,59.82 L252.32,59.54 L253.01,59.36 L254.32,59.20 L256.13,59.07 L258.27,59.03 L260.91,59.06 L264.21,59.12 L268.34,59.20 L274.11,59.32 L281.41,59.50 L289.02,59.70 L295.75,59.88 L300.40,60.00" fill="none" stroke="#d8c000" stroke-width="0.7" stroke-linejoin="round"/>
<path d="M242.30,89.20 L242.30,88.60 L243.93,88.57 L246.30,88.56 L248.96,88.51 L251.45,88.40 L253.32,88.20 L254.43,87.92 L255.10,87.58 L255.51,87.17 L255.85,86.65 L256.32,86.00 L256.92,85.14 L257.53,84.08 L258.13,82.95 L258.73,81.88 L259.33,81.00 L259.88,80.31 L260.39,79.73 L260.92,79.25 L261.54,78.84 L262.33,78.50 L263.20,78.24 L264.09,78.07 L265.15,77.96 L266.52,77.88 L268.34,77.80 L270.74,77.73 L273.61,77.70 L276.78,77.68 L280.09,77.66 L283.37,77.60 L286.92,77.50 L290.86,77.36 L294.72,77.22 L298.05,77.09 L300.40,77.00 L300.40,89.20 Z" fill="#ffb438" fill-opacity="0.6" stroke="none"/>
<path d="M242.30,88.60 L243.93,88.57 L246.30,88.56 L248.96,88.51 L251.45,88.40 L253.32,88.20 L254.43,87.92 L255.10,87.58 L255.51,87.17 L255.85,86.65 L256.32,86.00 L256.92,85.14 L257.53,84.08 L258.13,82.95 L258.73,81.88 L259.33,81.00 L259.88,80.31 L260.39,79.73 L260.92,79.25 L261.54,78.84 L262.33,78.50 L263.20,78.24 L264.09,78.07 L265.15,77.96 L266.52,77.88 L268.34,77.80 L270.74,77.73 L273.61,77.70 L276.78,77.68 L280.09,77.66 L283.37,77.60 L286.92,77.50 L290.86,77.36 L294.72,77.22 L298.05,77.09 L300.40,77.00" fill="none" stroke="#e09010" stroke-width="0.7" stroke-linejoin="round"/>
<path d="M242.30,89.20 L242.30,88.60 L245.43,88.57 L250.02,88.56 L255.14,88.51 L259.88,88.40 L263.34,88.20 L265.23,87.90 L266.16,87.51 L266.56,87.06 L266.81,86.55 L267.34,86.00 L268.13,85.35 L268.90,84.60 L269.68,83.82 L270.48,83.09 L271.35,82.50 L272.26,82.07 L273.19,81.76 L274.16,81.50 L275.21,81.27 L276.36,81.00 L277.62,80.70 L278.97,80.39 L280.40,80.08 L281.87,79.78 L283.37,79.50 L284.89,79.23 L286.46,78.97 L288.06,78.73 L289.70,78.50 L291.39,78.30 L293.27,78.12 L295.35,77.95 L297.40,77.81 L299.16,77.69 L300.40,77.60 L300.40,89.20 Z" fill="#f87038" fill-opacity="0.55" stroke="none"/>
<path d="M242.30,88.60 L245.43,88.57 L250.02,88.56 L255.14,88.51 L259.88,88.40 L263.34,88.20 L265.23,87.90 L266.16,87.51 L266.56,87.06 L266.81,86.55 L267.34,86.00 L268.13,85.35 L268.90,84.60 L269.68,83.82 L270.48,83.09 L271.35,82.50 L272.26,82.07 L273.19,81.76 L274.16,81.50 L275.21,81.27 L276.36,81.00 L277.62,80.70 L278.97,80.39 L280.40,80.08 L281.87,79.78 L283.37,79.50 L284.89,79.23 L286.46,78.97 L288.06,78.73 L289.70,78.50 L291.39,78.30 L293.27,78.12 L295.35,77.95 L297.40,77.81 L299.16,77.69 L300.40,77.60" fill="none" stroke="#d85020" stroke-width="0.7" stroke-linejoin="round"/>
<path d="M242.30,89.20 L242.30,88.20 L245.18,88.16 L249.25,88.11 L253.98,88.04 L258.86,87.94 L263.34,87.80 L267.46,87.58 L271.57,87.31 L275.62,87.01 L279.57,86.72 L283.37,86.50 L287.24,86.34 L291.22,86.22 L294.96,86.13 L298.13,86.06 L300.40,86.00 L300.40,89.20 Z" fill="#d04818" fill-opacity="0.6" stroke="none"/>
<path d="M242.30,88.20 L245.18,88.16 L249.25,88.11 L253.98,88.04 L258.86,87.94 L263.34,87.80 L267.46,87.58 L271.57,87.31 L275.62,87.01 L279.57,86.72 L283.37,86.50 L287.24,86.34 L291.22,86.22 L294.96,86.13 L298.13,86.06 L300.40,86.00" fill="none" stroke="#a83008" stroke-width="0.7" stroke-linejoin="round"/>
<path d="M242.30,89.20 L242.30,88.40 L246.59,88.35 L252.68,88.27 L259.73,88.19 L266.90,88.09 L273.35,88.00 L279.45,87.90 L285.76,87.78 L291.72,87.67 L296.79,87.57 L300.40,87.50 L300.40,89.20 Z" fill="#a0142a" fill-opacity="0.5" stroke="none"/>
<path d="M242.30,88.40 L246.59,88.35 L252.68,88.27 L259.73,88.19 L266.90,88.09 L273.35,88.00 L279.45,87.90 L285.76,87.78 L291.72,87.67 L296.79,87.57 L300.40,87.50" fill="none" stroke="#800010" stroke-width="0.7" stroke-linejoin="round"/>
</g>
<rect x="187.4" y="32.5" width="111.99999999999997" height="55.7" fill="none" stroke="#111" stroke-width="1.05"/>
<line x1="243.30" y1="32.50" x2="243.30" y2="88.20" stroke="#111" stroke-width="1.05" />
<line x1="202.40" y1="32.50" x2="202.40" y2="34.00" stroke="#000" stroke-width="0.6" />
<text transform="translate(202.40,98.70) scale(1,1.15)" font-size="8.2" text-anchor="middle" font-weight="normal" fill="#111" stroke="#111" stroke-width="0.1" >20</text>
<line x1="218.50" y1="32.50" x2="218.50" y2="34.00" stroke="#000" stroke-width="0.6" />
<text transform="translate(218.50,98.70) scale(1,1.15)" font-size="8.2" text-anchor="middle" font-weight="normal" fill="#111" stroke="#111" stroke-width="0.1" >40</text>
<line x1="234.60" y1="32.50" x2="234.60" y2="34.00" stroke="#000" stroke-width="0.6" />
<text transform="translate(234.60,98.70) scale(1,1.15)" font-size="8.2" text-anchor="middle" font-weight="normal" fill="#111" stroke="#111" stroke-width="0.1" >60</text>
<text transform="translate(215.15,108.60) scale(1,1.15)" font-size="8.8" text-anchor="middle" font-weight="normal" fill="#111" stroke="#111" stroke-width="0.1" >Time (hrs)</text>
<line x1="258.35" y1="32.50" x2="258.35" y2="34.00" stroke="#000" stroke-width="0.6" />
<text transform="translate(258.35,98.70) scale(1,1.15)" font-size="8.2" text-anchor="middle" font-weight="normal" fill="#111" stroke="#111" stroke-width="0.1" >20</text>
<line x1="274.51" y1="32.50" x2="274.51" y2="34.00" stroke="#000" stroke-width="0.6" />
<text transform="translate(274.51,98.70) scale(1,1.15)" font-size="8.2" text-anchor="middle" font-weight="normal" fill="#111" stroke="#111" stroke-width="0.1" >40</text>
<line x1="290.67" y1="32.50" x2="290.67" y2="34.00" stroke="#000" stroke-width="0.6" />
<text transform="translate(290.67,98.70) scale(1,1.15)" font-size="8.2" text-anchor="middle" font-weight="normal" fill="#111" stroke="#111" stroke-width="0.1" >60</text>
<text transform="translate(271.15,108.60) scale(1,1.15)" font-size="8.8" text-anchor="middle" font-weight="normal" fill="#111" stroke="#111" stroke-width="0.1" >Time (hrs)</text>
<line x1="187.40" y1="32.30" x2="188.90" y2="32.30" stroke="#000" stroke-width="0.6" />
<text transform="translate(184.90,35.90) scale(1,1.15)" font-size="8.2" text-anchor="end" font-weight="normal" fill="#111" stroke="#111" stroke-width="0.1" >1.5</text>
<line x1="187.40" y1="53.30" x2="188.90" y2="53.30" stroke="#000" stroke-width="0.6" />
<text transform="translate(184.90,56.90) scale(1,1.15)" font-size="8.2" text-anchor="end" font-weight="normal" fill="#111" stroke="#111" stroke-width="0.1" >1</text>
<line x1="187.40" y1="74.30" x2="188.90" y2="74.30" stroke="#000" stroke-width="0.6" />
<text transform="translate(184.90,77.90) scale(1,1.15)" font-size="8.2" text-anchor="end" font-weight="normal" fill="#111" stroke="#111" stroke-width="0.1" >0.5</text>
<text transform="translate(215.35,43.60) scale(1,1.15)" font-size="9" text-anchor="middle" font-weight="bold" fill="#111" stroke="#111" stroke-width="0.3" >TBR1</text>
<text transform="translate(271.35,43.60) scale(1,1.15)" font-size="9" text-anchor="middle" font-weight="bold" fill="#111" stroke="#111" stroke-width="0.3" >TBRΔa</text>
<text transform="translate(170.6,62.4) rotate(-90)" font-size="9.2" text-anchor="middle" fill="#111" stroke="#111" stroke-width="0.1">OD<tspan font-size="6.6" dy="4.3">600</tspan></text>
<line x1="215.80" y1="120.90" x2="227.80" y2="120.90" stroke="#d0f8f8" stroke-width="1.5" />
<text transform="translate(228.30,123.90) scale(1,1.15)" font-size="8.6" text-anchor="start" font-weight="normal" fill="#111" stroke="#111" stroke-width="0.1" >0</text>
<line x1="244.30" y1="121.30" x2="256.30" y2="121.30" stroke="#fff8b0" stroke-width="1.5" />
<text transform="translate(256.80,124.30) scale(1,1.15)" font-size="8.6" text-anchor="start" font-weight="normal" fill="#111" stroke="#111" stroke-width="0.1" >0</text>
<line x1="215.80" y1="130.90" x2="227.80" y2="130.90" stroke="#70c0c8" stroke-width="1.5" />
<text transform="translate(228.30,133.90) scale(1,1.15)" font-size="8.6" text-anchor="start" font-weight="normal" fill="#111" stroke="#111" stroke-width="0.1" >0.2</text>
<line x1="244.30" y1="131.30" x2="256.30" y2="131.30" stroke="#fff040" stroke-width="1.5" />
<text transform="translate(256.80,134.30) scale(1,1.15)" font-size="8.6" text-anchor="start" font-weight="normal" fill="#111" stroke="#111" stroke-width="0.1" >0.2</text>
<line x1="215.80" y1="140.90" x2="227.80" y2="140.90" stroke="#50b890" stroke-width="1.5" />
<text transform="translate(228.30,143.90) scale(1,1.15)" font-size="8.6" text-anchor="start" font-weight="normal" fill="#111" stroke="#111" stroke-width="0.1" >0.4</text>
<line x1="244.30" y1="141.30" x2="256.30" y2="141.30" stroke="#ffb830" stroke-width="1.5" />
<text transform="translate(256.80,144.30) scale(1,1.15)" font-size="8.6" text-anchor="start" font-weight="normal" fill="#111" stroke="#111" stroke-width="0.1" >0.4</text>
<line x1="215.80" y1="150.90" x2="227.80" y2="150.90" stroke="#6a9a80" stroke-width="1.5" />
<text transform="translate(228.30,153.90) scale(1,1.15)" font-size="8.6" text-anchor="start" font-weight="normal" fill="#111" stroke="#111" stroke-width="0.1" >0.6</text>
<line x1="244.30" y1="151.30" x2="256.30" y2="151.30" stroke="#ff7040" stroke-width="1.5" />
<text transform="translate(256.80,154.30) scale(1,1.15)" font-size="8.6" text-anchor="start" font-weight="normal" fill="#111" stroke="#111" stroke-width="0.1" >0.6</text>
<line x1="215.80" y1="160.90" x2="227.80" y2="160.90" stroke="#606878" stroke-width="1.5" />
<text transform="translate(228.30,163.90) scale(1,1.15)" font-size="8.6" text-anchor="start" font-weight="normal" fill="#111" stroke="#111" stroke-width="0.1" >0.8</text>
<line x1="244.30" y1="161.30" x2="256.30" y2="161.30" stroke="#c84818" stroke-width="1.5" />
<text transform="translate(256.80,164.30) scale(1,1.15)" font-size="8.6" text-anchor="start" font-weight="normal" fill="#111" stroke="#111" stroke-width="0.1" >0.8</text>
<line x1="215.80" y1="170.90" x2="227.80" y2="170.90" stroke="#302050" stroke-width="1.5" />
<text transform="translate(228.30,173.90) scale(1,1.15)" font-size="8.6" text-anchor="start" font-weight="normal" fill="#111" stroke="#111" stroke-width="0.1" >1</text>
<line x1="244.30" y1="171.30" x2="256.30" y2="171.30" stroke="#a01828" stroke-width="1.5" />
<text transform="translate(256.80,174.30) scale(1,1.15)" font-size="8.6" text-anchor="start" font-weight="normal" fill="#111" stroke="#111" stroke-width="0.1" >1 μg/mL AmB</text>
<text transform="translate(321.00,12.50) scale(1,1.0)" font-size="16.5" text-anchor="start" font-weight="bold" fill="#000" stroke="#000" stroke-width="0.3" >c</text>
<text transform="translate(346.90,22.80) scale(1,1.15)" font-size="9.4" text-anchor="start" font-weight="bold" fill="#000" stroke="#000" stroke-width="0.3" >CASP</text>
<rect x="346.90" y="32.50" width="113.40" height="55.70" fill="#cccccc" stroke="none" stroke-width="0" />
<clipPath id="clip346a"><rect x="346.9" y="32.5" width="56.60000000000002" height="55.7"/></clipPath>
<clipPath id="clip346b"><rect x="403.5" y="32.5" width="56.80000000000001" height="55.7"/></clipPath>
<g clip-path="url(#clip346a)">
<path d="M345.89,89.20 L345.89,89.00 L346.08,88.87 L346.34,88.78 L346.65,88.54 L347.01,88.01 L347.41,87.00 L347.83,85.35 L348.29,83.16 L348.80,80.70 L349.35,78.23 L349.93,76.00 L350.57,73.91 L351.27,71.77 L352.01,69.77 L352.75,68.05 L353.47,66.80 L353.91,66.13 L354.08,65.94 L354.39,66.03 L355.23,66.22 L357.01,66.30 L360.11,66.31 L364.28,66.36 L368.92,66.44 L373.43,66.49 L377.22,66.50 L380.26,66.47 L382.95,66.42 L385.32,66.34 L387.44,66.21 L389.35,66.00 L390.90,65.74 L392.07,65.43 L393.06,65.05 L394.10,64.58 L395.41,64.00 L397.19,63.19 L399.27,62.16 L401.38,61.10 L403.23,60.15 L404.51,59.50 L404.51,89.20 Z" fill="#a8dcdc" fill-opacity="0.5" stroke="none"/>
<path d="M345.89,89.00 L346.08,88.87 L346.34,88.78 L346.65,88.54 L347.01,88.01 L347.41,87.00 L347.83,85.35 L348.29,83.16 L348.80,80.70 L349.35,78.23 L349.93,76.00 L350.57,73.91 L351.27,71.77 L352.01,69.77 L352.75,68.05 L353.47,66.80 L353.91,66.13 L354.08,65.94 L354.39,66.03 L355.23,66.22 L357.01,66.30 L360.11,66.31 L364.28,66.36 L368.92,66.44 L373.43,66.49 L377.22,66.50 L380.26,66.47 L382.95,66.42 L385.32,66.34 L387.44,66.21 L389.35,66.00 L390.90,65.74 L392.07,65.43 L393.06,65.05 L394.10,64.58 L395.41,64.00 L397.19,63.19 L399.27,62.16 L401.38,61.10 L403.23,60.15 L404.51,59.50" fill="none" stroke="#7cc8c8" stroke-width="0.7" stroke-linejoin="round"/>
<path d="M345.89,89.20 L345.89,89.00 L347.41,87.50 L362.06,68.40 L404.51,69.20 L404.51,89.20 Z" fill="#50b8bc" fill-opacity="0.35" stroke="none"/>
<path d="M345.89,89.00 L347.41,87.50 L362.06,68.40 L404.51,69.20" fill="none" stroke="#3a9aa0" stroke-width="0.7" stroke-linejoin="round"/>
<path d="M345.89,89.20 L345.89,89.00 L345.97,88.98 L346.00,89.01 L346.14,88.95 L346.56,88.66 L347.41,88.00 L348.80,86.79 L350.64,85.14 L352.74,83.28 L354.93,81.49 L357.01,80.00 L359.00,78.84 L361.01,77.83 L363.05,76.95 L365.08,76.18 L367.11,75.50 L368.86,74.93 L370.33,74.49 L371.94,74.13 L374.10,73.82 L377.22,73.50 L382.02,73.17 L388.21,72.87 L394.74,72.59 L400.52,72.37 L404.51,72.20 L404.51,89.20 Z" fill="#38a880" fill-opacity="0.3" stroke="none"/>
<path d="M345.89,89.00 L345.97,88.98 L346.00,89.01 L346.14,88.95 L346.56,88.66 L347.41,88.00 L348.80,86.79 L350.64,85.14 L352.74,83.28 L354.93,81.49 L357.01,80.00 L359.00,78.84 L361.01,77.83 L363.05,76.95 L365.08,76.18 L367.11,75.50 L368.86,74.93 L370.33,74.49 L371.94,74.13 L374.10,73.82 L377.22,73.50 L382.02,73.17 L388.21,72.87 L394.74,72.59 L400.52,72.37 L404.51,72.20" fill="none" stroke="#2a8a68" stroke-width="0.7" stroke-linejoin="round"/>
<path d="M345.89,89.20 L345.89,89.00 L345.97,88.92 L346.00,88.83 L346.14,88.70 L346.56,88.49 L347.41,88.20 L348.80,87.79 L350.64,87.30 L352.74,86.73 L354.93,86.12 L357.01,85.50 L359.00,84.83 L361.01,84.09 L363.05,83.33 L365.08,82.62 L367.11,82.00 L368.86,81.49 L370.33,81.04 L371.94,80.66 L374.10,80.31 L377.22,80.00 L382.02,79.72 L388.21,79.48 L394.74,79.28 L400.52,79.12 L404.51,79.00 L404.51,89.20 Z" fill="#4e8a6c" fill-opacity="0.35" stroke="none"/>
<path d="M345.89,89.00 L345.97,88.92 L346.00,88.83 L346.14,88.70 L346.56,88.49 L347.41,88.20 L348.80,87.79 L350.64,87.30 L352.74,86.73 L354.93,86.12 L357.01,85.50 L359.00,84.83 L361.01,84.09 L363.05,83.33 L365.08,82.62 L367.11,82.00 L368.86,81.49 L370.33,81.04 L371.94,80.66 L374.10,80.31 L377.22,80.00 L382.02,79.72 L388.21,79.48 L394.74,79.28 L400.52,79.12 L404.51,79.00" fill="none" stroke="#2a4a48" stroke-width="0.7" stroke-linejoin="round"/>
<path d="M345.89,89.20 L345.89,89.00 L345.93,88.93 L345.90,88.85 L346.00,88.73 L346.43,88.53 L347.41,88.20 L349.06,87.73 L351.25,87.13 L353.78,86.45 L356.45,85.73 L359.03,85.00 L361.61,84.21 L364.32,83.33 L367.06,82.45 L369.71,81.65 L372.17,81.00 L374.19,80.54 L375.85,80.21 L377.50,79.98 L379.53,79.79 L382.27,79.60 L386.30,79.42 L391.36,79.27 L396.64,79.16 L401.29,79.07 L404.51,79.00 L404.51,89.20 Z" fill="#4a5868" fill-opacity="0.35" stroke="none"/>
<path d="M345.89,89.00 L345.93,88.93 L345.90,88.85 L346.00,88.73 L346.43,88.53 L347.41,88.20 L349.06,87.73 L351.25,87.13 L353.78,86.45 L356.45,85.73 L359.03,85.00 L361.61,84.21 L364.32,83.33 L367.06,82.45 L369.71,81.65 L372.17,81.00 L374.19,80.54 L375.85,80.21 L377.50,79.98 L379.53,79.79 L382.27,79.60 L386.30,79.42 L391.36,79.27 L396.64,79.16 L401.29,79.07 L404.51,79.00" fill="none" stroke="#1a2438" stroke-width="0.7" stroke-linejoin="round"/>
<path d="M345.89,89.20 L345.89,89.00 L345.93,88.94 L345.90,88.88 L346.00,88.77 L346.43,88.56 L347.41,88.20 L349.06,87.65 L351.25,86.94 L353.78,86.14 L356.45,85.31 L359.03,84.50 L361.61,83.67 L364.32,82.77 L367.06,81.89 L369.71,81.11 L372.17,80.50 L374.19,80.11 L375.85,79.89 L377.50,79.78 L379.53,79.70 L382.27,79.60 L386.30,79.48 L391.36,79.38 L396.64,79.31 L401.29,79.25 L404.51,79.20 L404.51,89.20 Z" fill="#2a1850" fill-opacity="0.3" stroke="none"/>
<path d="M345.89,89.00 L345.93,88.94 L345.90,88.88 L346.00,88.77 L346.43,88.56 L347.41,88.20 L349.06,87.65 L351.25,86.94 L353.78,86.14 L356.45,85.31 L359.03,84.50 L361.61,83.67 L364.32,82.77 L367.06,81.89 L369.71,81.11 L372.17,80.50 L374.19,80.11 L375.85,79.89 L377.50,79.78 L379.53,79.70 L382.27,79.60 L386.30,79.48 L391.36,79.38 L396.64,79.31 L401.29,79.25 L404.51,79.20" fill="none" stroke="#1a0c3a" stroke-width="0.7" stroke-linejoin="round"/>
</g>
<g clip-path="url(#clip346b)">
<path d="M402.49,89.20 L402.49,89.00 L402.66,89.06 L402.90,89.25 L403.18,89.31 L403.49,88.98 L403.80,88.00 L404.10,86.18 L404.40,83.69 L404.72,80.81 L405.09,77.82 L405.53,75.00 L406.04,72.14 L406.60,69.07 L407.22,66.07 L407.88,63.45 L408.57,61.50 L408.60,60.45 L407.98,60.11 L407.74,60.12 L408.94,60.14 L412.63,59.80 L420.29,58.99 L431.23,57.95 L443.20,56.85 L453.98,55.87 L461.31,55.20 L461.31,89.20 Z" fill="#fff4a8" fill-opacity="0.45" stroke="none"/>
<path d="M402.49,89.00 L402.66,89.06 L402.90,89.25 L403.18,89.31 L403.49,88.98 L403.80,88.00 L404.10,86.18 L404.40,83.69 L404.72,80.81 L405.09,77.82 L405.53,75.00 L406.04,72.14 L406.60,69.07 L407.22,66.07 L407.88,63.45 L408.57,61.50 L408.60,60.45 L407.98,60.11 L407.74,60.12 L408.94,60.14 L412.63,59.80 L420.29,58.99 L431.23,57.95 L443.20,56.85 L453.98,55.87 L461.31,55.20" fill="none" stroke="#d8c860" stroke-width="0.7" stroke-linejoin="round"/>
<path d="M402.49,89.20 L402.49,89.00 L402.66,89.06 L402.90,89.25 L403.18,89.31 L403.49,88.98 L403.80,88.00 L404.10,86.17 L404.40,83.67 L404.72,80.79 L405.09,77.80 L405.53,75.00 L406.04,72.19 L406.60,69.18 L407.22,66.25 L407.88,63.70 L408.57,61.80 L408.60,60.79 L407.98,60.47 L407.74,60.50 L408.94,60.53 L412.63,60.20 L420.29,59.40 L431.23,58.36 L443.20,57.25 L453.98,56.27 L461.31,55.60 L461.31,89.20 Z" fill="#fff040" fill-opacity="0.3" stroke="none"/>
<path d="M402.49,89.00 L402.66,89.06 L402.90,89.25 L403.18,89.31 L403.49,88.98 L403.80,88.00 L404.10,86.17 L404.40,83.67 L404.72,80.79 L405.09,77.80 L405.53,75.00 L406.04,72.19 L406.60,69.18 L407.22,66.25 L407.88,63.70 L408.57,61.80 L408.60,60.79 L407.98,60.47 L407.74,60.50 L408.94,60.53 L412.63,60.20 L420.29,59.40 L431.23,58.36 L443.20,57.25 L453.98,56.27 L461.31,55.60" fill="none" stroke="#d8c000" stroke-width="0.7" stroke-linejoin="round"/>
<path d="M402.49,89.20 L402.49,88.30 L407.14,88.32 L413.92,88.38 L421.52,88.40 L428.63,88.30 L433.93,88.00 L437.04,87.46 L438.85,86.74 L439.92,85.89 L440.79,84.96 L442.04,84.00 L443.62,82.93 L445.14,81.72 L446.69,80.48 L448.34,79.37 L450.16,78.50 L452.37,77.92 L454.94,77.54 L457.51,77.30 L459.75,77.14 L461.31,77.00 L461.31,89.20 Z" fill="#ffb438" fill-opacity="0.45" stroke="none"/>
<path d="M402.49,88.30 L407.14,88.32 L413.92,88.38 L421.52,88.40 L428.63,88.30 L433.93,88.00 L437.04,87.46 L438.85,86.74 L439.92,85.89 L440.79,84.96 L442.04,84.00 L443.62,82.93 L445.14,81.72 L446.69,80.48 L448.34,79.37 L450.16,78.50 L452.37,77.92 L454.94,77.54 L457.51,77.30 L459.75,77.14 L461.31,77.00" fill="none" stroke="#e09010" stroke-width="0.7" stroke-linejoin="round"/>
<path d="M402.49,89.20 L402.49,86.50 L418.71,87.30 L431.90,88.20 L461.31,88.40 L461.31,89.20 Z" fill="#a0142a" fill-opacity="0.45" stroke="none"/>
<path d="M402.49,86.50 L418.71,87.30 L431.90,88.20 L461.31,88.40" fill="none" stroke="#800010" stroke-width="0.7" stroke-linejoin="round"/>
<path d="M402.49,89.20 L402.49,87.20 L423.79,87.60 L433.93,88.20 L461.31,88.40 L461.31,89.20 Z" fill="#d04818" fill-opacity="0.45" stroke="none"/>
<path d="M402.49,87.20 L423.79,87.60 L433.93,88.20 L461.31,88.40" fill="none" stroke="#a83008" stroke-width="0.7" stroke-linejoin="round"/>
</g>
<rect x="346.9" y="32.5" width="113.40000000000003" height="55.7" fill="none" stroke="#111" stroke-width="1.05"/>
<line x1="403.50" y1="32.50" x2="403.50" y2="88.20" stroke="#111" stroke-width="1.05" />
<line x1="362.09" y1="32.50" x2="362.09" y2="34.00" stroke="#000" stroke-width="0.6" />
<text transform="translate(362.09,98.70) scale(1,1.15)" font-size="8.2" text-anchor="middle" font-weight="normal" fill="#111" stroke="#111" stroke-width="0.1" >20</text>
<line x1="378.39" y1="32.50" x2="378.39" y2="34.00" stroke="#000" stroke-width="0.6" />
<text transform="translate(378.39,98.70) scale(1,1.15)" font-size="8.2" text-anchor="middle" font-weight="normal" fill="#111" stroke="#111" stroke-width="0.1" >40</text>
<line x1="394.69" y1="32.50" x2="394.69" y2="34.00" stroke="#000" stroke-width="0.6" />
<text transform="translate(394.69,98.70) scale(1,1.15)" font-size="8.2" text-anchor="middle" font-weight="normal" fill="#111" stroke="#111" stroke-width="0.1" >60</text>
<text transform="translate(375.00,108.60) scale(1,1.15)" font-size="8.8" text-anchor="middle" font-weight="normal" fill="#111" stroke="#111" stroke-width="0.1" >Time (hrs)</text>
<line x1="418.74" y1="32.50" x2="418.74" y2="34.00" stroke="#000" stroke-width="0.6" />
<text transform="translate(418.74,98.70) scale(1,1.15)" font-size="8.2" text-anchor="middle" font-weight="normal" fill="#111" stroke="#111" stroke-width="0.1" >20</text>
<line x1="435.10" y1="32.50" x2="435.10" y2="34.00" stroke="#000" stroke-width="0.6" />
<text transform="translate(435.10,98.70) scale(1,1.15)" font-size="8.2" text-anchor="middle" font-weight="normal" fill="#111" stroke="#111" stroke-width="0.1" >40</text>
<line x1="451.46" y1="32.50" x2="451.46" y2="34.00" stroke="#000" stroke-width="0.6" />
<text transform="translate(451.46,98.70) scale(1,1.15)" font-size="8.2" text-anchor="middle" font-weight="normal" fill="#111" stroke="#111" stroke-width="0.1" >60</text>
<text transform="translate(431.70,108.60) scale(1,1.15)" font-size="8.8" text-anchor="middle" font-weight="normal" fill="#111" stroke="#111" stroke-width="0.1" >Time (hrs)</text>
<line x1="346.90" y1="32.30" x2="348.40" y2="32.30" stroke="#000" stroke-width="0.6" />
<text transform="translate(344.40,35.90) scale(1,1.15)" font-size="8.2" text-anchor="end" font-weight="normal" fill="#111" stroke="#111" stroke-width="0.1" >1.5</text>
<line x1="346.90" y1="53.30" x2="348.40" y2="53.30" stroke="#000" stroke-width="0.6" />
<text transform="translate(344.40,56.90) scale(1,1.15)" font-size="8.2" text-anchor="end" font-weight="normal" fill="#111" stroke="#111" stroke-width="0.1" >1</text>
<line x1="346.90" y1="74.30" x2="348.40" y2="74.30" stroke="#000" stroke-width="0.6" />
<text transform="translate(344.40,77.90) scale(1,1.15)" font-size="8.2" text-anchor="end" font-weight="normal" fill="#111" stroke="#111" stroke-width="0.1" >0.5</text>
<text transform="translate(375.20,43.60) scale(1,1.15)" font-size="9" text-anchor="middle" font-weight="bold" fill="#111" stroke="#111" stroke-width="0.3" >TBR1</text>
<text transform="translate(431.90,43.60) scale(1,1.15)" font-size="9" text-anchor="middle" font-weight="bold" fill="#111" stroke="#111" stroke-width="0.3" >TBRΔa</text>
<text transform="translate(330.09999999999997,62.4) rotate(-90)" font-size="9.2" text-anchor="middle" fill="#111" stroke="#111" stroke-width="0.1">OD<tspan font-size="6.6" dy="4.3">600</tspan></text>
<line x1="375.80" y1="119.60" x2="387.80" y2="119.60" stroke="#d0f8f8" stroke-width="1.5" />
<text transform="translate(388.30,122.60) scale(1,1.15)" font-size="8.6" text-anchor="start" font-weight="normal" fill="#111" stroke="#111" stroke-width="0.1" >0</text>
<line x1="404.70" y1="120.00" x2="416.70" y2="120.00" stroke="#fff8b0" stroke-width="1.5" />
<text transform="translate(417.20,123.00) scale(1,1.15)" font-size="8.6" text-anchor="start" font-weight="normal" fill="#111" stroke="#111" stroke-width="0.1" >0</text>
<line x1="375.80" y1="129.66" x2="387.80" y2="129.66" stroke="#70c0c8" stroke-width="1.5" />
<text transform="translate(388.30,132.66) scale(1,1.15)" font-size="8.6" text-anchor="start" font-weight="normal" fill="#111" stroke="#111" stroke-width="0.1" >0.2</text>
<line x1="404.70" y1="130.06" x2="416.70" y2="130.06" stroke="#fff040" stroke-width="1.5" />
<text transform="translate(417.20,133.06) scale(1,1.15)" font-size="8.6" text-anchor="start" font-weight="normal" fill="#111" stroke="#111" stroke-width="0.1" >0.2</text>
<line x1="375.80" y1="139.72" x2="387.80" y2="139.72" stroke="#50b890" stroke-width="1.5" />
<text transform="translate(388.30,142.72) scale(1,1.15)" font-size="8.6" text-anchor="start" font-weight="normal" fill="#111" stroke="#111" stroke-width="0.1" >0.4</text>
<line x1="404.70" y1="140.12" x2="416.70" y2="140.12" stroke="#ffb830" stroke-width="1.5" />
<text transform="translate(417.20,143.12) scale(1,1.15)" font-size="8.6" text-anchor="start" font-weight="normal" fill="#111" stroke="#111" stroke-width="0.1" >0.4</text>
<line x1="375.80" y1="149.78" x2="387.80" y2="149.78" stroke="#6a9a80" stroke-width="1.5" />
<text transform="translate(388.30,152.78) scale(1,1.15)" font-size="8.6" text-anchor="start" font-weight="normal" fill="#111" stroke="#111" stroke-width="0.1" >0.6</text>
<line x1="404.70" y1="150.18" x2="416.70" y2="150.18" stroke="#ff7040" stroke-width="1.5" />
<text transform="translate(417.20,153.18) scale(1,1.15)" font-size="8.6" text-anchor="start" font-weight="normal" fill="#111" stroke="#111" stroke-width="0.1" >0.6</text>
<line x1="375.80" y1="159.84" x2="387.80" y2="159.84" stroke="#606878" stroke-width="1.5" />
<text transform="translate(388.30,162.84) scale(1,1.15)" font-size="8.6" text-anchor="start" font-weight="normal" fill="#111" stroke="#111" stroke-width="0.1" >0.8</text>
<line x1="404.70" y1="160.24" x2="416.70" y2="160.24" stroke="#c84818" stroke-width="1.5" />
<text transform="translate(417.20,163.24) scale(1,1.15)" font-size="8.6" text-anchor="start" font-weight="normal" fill="#111" stroke="#111" stroke-width="0.1" >0.8</text>
<line x1="375.80" y1="169.90" x2="387.80" y2="169.90" stroke="#302050" stroke-width="1.5" />
<text transform="translate(388.30,172.90) scale(1,1.15)" font-size="8.6" text-anchor="start" font-weight="normal" fill="#111" stroke="#111" stroke-width="0.1" >1</text>
<line x1="404.70" y1="170.30" x2="416.70" y2="170.30" stroke="#a01828" stroke-width="1.5" />
<text transform="translate(417.20,173.30) scale(1,1.15)" font-size="8.6" text-anchor="start" font-weight="normal" fill="#111" stroke="#111" stroke-width="0.1" >1 μg/mL CASP</text>
<text transform="translate(476.00,12.50) scale(1,1.0)" font-size="16.5" text-anchor="start" font-weight="bold" fill="#000" stroke="#000" stroke-width="0.3" >d</text>
<text transform="translate(504.60,22.80) scale(1,1.15)" font-size="9.4" text-anchor="start" font-weight="bold" fill="#000" stroke="#000" stroke-width="0.3" >FLC</text>
<rect x="506.20" y="32.50" width="112.00" height="55.70" fill="#cccccc" stroke="none" stroke-width="0" />
<clipPath id="clip506a"><rect x="506.2" y="32.5" width="55.80000000000001" height="55.7"/></clipPath>
<clipPath id="clip506b"><rect x="562.0" y="32.5" width="56.200000000000045" height="55.7"/></clipPath>
<g clip-path="url(#clip506a)">
<path d="M505.20,89.20 L505.20,89.00 L505.36,88.97 L505.59,88.96 L505.86,88.91 L506.13,88.74 L506.40,88.40 L506.65,87.85 L506.91,87.14 L507.16,86.31 L507.43,85.42 L507.69,84.50 L507.97,83.53 L508.26,82.47 L508.55,81.38 L508.83,80.30 L509.09,79.30 L509.33,78.37 L509.55,77.49 L509.76,76.63 L509.97,75.81 L510.19,75.00 L510.40,74.21 L510.62,73.45 L510.84,72.71 L511.06,71.99 L511.28,71.30 L511.51,70.62 L511.75,69.95 L511.99,69.32 L512.24,68.73 L512.48,68.20 L512.71,67.74 L512.94,67.33 L513.17,66.98 L513.41,66.67 L513.67,66.40 L513.94,66.18 L514.20,66.03 L514.48,65.91 L514.80,65.80 L515.17,65.70 L514.92,65.60 L514.04,65.50 L513.53,65.42 L514.40,65.36 L517.66,65.30 L524.71,65.26 L534.89,65.23 L546.07,65.22 L556.14,65.21 L563.00,65.20 L563.00,89.20 Z" fill="#a8dcdc" fill-opacity="0.5" stroke="none"/>
<path d="M505.20,89.00 L505.36,88.97 L505.59,88.96 L505.86,88.91 L506.13,88.74 L506.40,88.40 L506.65,87.85 L506.91,87.14 L507.16,86.31 L507.43,85.42 L507.69,84.50 L507.97,83.53 L508.26,82.47 L508.55,81.38 L508.83,80.30 L509.09,79.30 L509.33,78.37 L509.55,77.49 L509.76,76.63 L509.97,75.81 L510.19,75.00 L510.40,74.21 L510.62,73.45 L510.84,72.71 L511.06,71.99 L511.28,71.30 L511.51,70.62 L511.75,69.95 L511.99,69.32 L512.24,68.73 L512.48,68.20 L512.71,67.74 L512.94,67.33 L513.17,66.98 L513.41,66.67 L513.67,66.40 L513.94,66.18 L514.20,66.03 L514.48,65.91 L514.80,65.80 L515.17,65.70 L514.92,65.60 L514.04,65.50 L513.53,65.42 L514.40,65.36 L517.66,65.30 L524.71,65.26 L534.89,65.23 L546.07,65.22 L556.14,65.21 L563.00,65.20" fill="none" stroke="#7cc8c8" stroke-width="0.7" stroke-linejoin="round"/>
<path d="M505.20,89.20 L505.20,89.00 L505.36,88.97 L505.59,88.96 L505.86,88.91 L506.13,88.74 L506.40,88.40 L506.65,87.85 L506.91,87.14 L507.16,86.31 L507.43,85.42 L507.69,84.50 L507.97,83.53 L508.26,82.47 L508.55,81.38 L508.83,80.30 L509.09,79.30 L509.33,78.37 L509.55,77.49 L509.76,76.63 L509.97,75.81 L510.19,75.00 L510.40,74.21 L510.62,73.45 L510.84,72.71 L511.06,71.99 L511.28,71.30 L511.51,70.62 L511.75,69.94 L511.99,69.30 L512.24,68.71 L512.48,68.20 L512.71,67.77 L512.94,67.41 L513.17,67.10 L513.41,66.84 L513.67,66.60 L513.94,66.40 L514.20,66.24 L514.48,66.11 L514.80,66.00 L515.17,65.90 L514.92,65.80 L514.04,65.72 L513.53,65.66 L514.40,65.60 L517.66,65.55 L524.71,65.51 L534.89,65.49 L546.07,65.47 L556.14,65.46 L563.00,65.45 L563.00,89.20 Z" fill="#50b8bc" fill-opacity="0.5" stroke="none"/>
<path d="M505.20,89.00 L505.36,88.97 L505.59,88.96 L505.86,88.91 L506.13,88.74 L506.40,88.40 L506.65,87.85 L506.91,87.14 L507.16,86.31 L507.43,85.42 L507.69,84.50 L507.97,83.53 L508.26,82.47 L508.55,81.38 L508.83,80.30 L509.09,79.30 L509.33,78.37 L509.55,77.49 L509.76,76.63 L509.97,75.81 L510.19,75.00 L510.40,74.21 L510.62,73.45 L510.84,72.71 L511.06,71.99 L511.28,71.30 L511.51,70.62 L511.75,69.94 L511.99,69.30 L512.24,68.71 L512.48,68.20 L512.71,67.77 L512.94,67.41 L513.17,67.10 L513.41,66.84 L513.67,66.60 L513.94,66.40 L514.20,66.24 L514.48,66.11 L514.80,66.00 L515.17,65.90 L514.92,65.80 L514.04,65.72 L513.53,65.66 L514.40,65.60 L517.66,65.55 L524.71,65.51 L534.89,65.49 L546.07,65.47 L556.14,65.46 L563.00,65.45" fill="none" stroke="#3a9aa0" stroke-width="0.7" stroke-linejoin="round"/>
<path d="M505.20,89.20 L505.20,89.00 L505.36,88.97 L505.59,88.96 L505.86,88.91 L506.13,88.74 L506.40,88.40 L506.65,87.85 L506.91,87.14 L507.16,86.31 L507.43,85.42 L507.69,84.50 L507.97,83.53 L508.26,82.47 L508.55,81.38 L508.83,80.30 L509.09,79.30 L509.33,78.37 L509.55,77.49 L509.76,76.63 L509.97,75.81 L510.19,75.00 L510.40,74.21 L510.62,73.45 L510.84,72.71 L511.06,71.99 L511.28,71.30 L511.51,70.61 L511.75,69.94 L511.99,69.29 L512.24,68.70 L512.48,68.20 L512.71,67.80 L512.94,67.48 L513.17,67.23 L513.41,67.01 L513.67,66.80 L513.94,66.61 L514.20,66.45 L514.48,66.32 L514.80,66.20 L515.17,66.10 L514.92,66.01 L514.04,65.94 L513.53,65.89 L514.40,65.84 L517.66,65.80 L524.71,65.77 L534.89,65.74 L546.07,65.72 L556.14,65.71 L563.00,65.70 L563.00,89.20 Z" fill="#38a880" fill-opacity="0.45" stroke="none"/>
<path d="M505.20,89.00 L505.36,88.97 L505.59,88.96 L505.86,88.91 L506.13,88.74 L506.40,88.40 L506.65,87.85 L506.91,87.14 L507.16,86.31 L507.43,85.42 L507.69,84.50 L507.97,83.53 L508.26,82.47 L508.55,81.38 L508.83,80.30 L509.09,79.30 L509.33,78.37 L509.55,77.49 L509.76,76.63 L509.97,75.81 L510.19,75.00 L510.40,74.21 L510.62,73.45 L510.84,72.71 L511.06,71.99 L511.28,71.30 L511.51,70.61 L511.75,69.94 L511.99,69.29 L512.24,68.70 L512.48,68.20 L512.71,67.80 L512.94,67.48 L513.17,67.23 L513.41,67.01 L513.67,66.80 L513.94,66.61 L514.20,66.45 L514.48,66.32 L514.80,66.20 L515.17,66.10 L514.92,66.01 L514.04,65.94 L513.53,65.89 L514.40,65.84 L517.66,65.80 L524.71,65.77 L534.89,65.74 L546.07,65.72 L556.14,65.71 L563.00,65.70" fill="none" stroke="#2a8a68" stroke-width="0.7" stroke-linejoin="round"/>
<path d="M505.20,89.20 L505.20,89.00 L505.36,88.97 L505.59,88.96 L505.86,88.91 L506.13,88.74 L506.40,88.40 L506.65,87.85 L506.91,87.14 L507.16,86.31 L507.43,85.42 L507.69,84.50 L507.97,83.53 L508.26,82.47 L508.55,81.38 L508.83,80.30 L509.09,79.30 L509.33,78.37 L509.55,77.49 L509.76,76.63 L509.97,75.81 L510.19,75.00 L510.40,74.21 L510.62,73.45 L510.84,72.71 L511.06,71.99 L511.28,71.30 L511.51,70.61 L511.75,69.93 L511.99,69.27 L512.24,68.69 L512.48,68.20 L512.71,67.83 L512.94,67.56 L513.17,67.35 L513.41,67.18 L513.67,67.00 L513.94,66.82 L514.20,66.66 L514.48,66.52 L514.80,66.40 L515.17,66.30 L514.92,66.22 L514.04,66.16 L513.53,66.12 L514.40,66.08 L517.66,66.05 L524.71,66.02 L534.89,65.99 L546.07,65.98 L556.14,65.96 L563.00,65.95 L563.00,89.20 Z" fill="#4e8a6c" fill-opacity="0.45" stroke="none"/>
<path d="M505.20,89.00 L505.36,88.97 L505.59,88.96 L505.86,88.91 L506.13,88.74 L506.40,88.40 L506.65,87.85 L506.91,87.14 L507.16,86.31 L507.43,85.42 L507.69,84.50 L507.97,83.53 L508.26,82.47 L508.55,81.38 L508.83,80.30 L509.09,79.30 L509.33,78.37 L509.55,77.49 L509.76,76.63 L509.97,75.81 L510.19,75.00 L510.40,74.21 L510.62,73.45 L510.84,72.71 L511.06,71.99 L511.28,71.30 L511.51,70.61 L511.75,69.93 L511.99,69.27 L512.24,68.69 L512.48,68.20 L512.71,67.83 L512.94,67.56 L513.17,67.35 L513.41,67.18 L513.67,67.00 L513.94,66.82 L514.20,66.66 L514.48,66.52 L514.80,66.40 L515.17,66.30 L514.92,66.22 L514.04,66.16 L513.53,66.12 L514.40,66.08 L517.66,66.05 L524.71,66.02 L534.89,65.99 L546.07,65.98 L556.14,65.96 L563.00,65.95" fill="none" stroke="#2a4a48" stroke-width="0.7" stroke-linejoin="round"/>
<path d="M505.20,89.20 L505.20,89.00 L505.36,88.97 L505.59,88.96 L505.86,88.91 L506.13,88.74 L506.40,88.40 L506.65,87.85 L506.91,87.14 L507.16,86.31 L507.43,85.42 L507.69,84.50 L507.97,83.53 L508.26,82.47 L508.55,81.38 L508.83,80.30 L509.09,79.30 L509.33,78.37 L509.55,77.49 L509.76,76.63 L509.97,75.81 L510.19,75.00 L510.40,74.21 L510.62,73.45 L510.84,72.71 L511.06,71.99 L511.28,71.30 L511.51,70.61 L511.75,69.92 L511.99,69.26 L512.24,68.68 L512.48,68.20 L512.71,67.86 L512.94,67.63 L513.17,67.48 L513.41,67.35 L513.67,67.20 L513.94,67.03 L514.20,66.87 L514.48,66.73 L514.80,66.60 L515.17,66.50 L514.92,66.43 L514.04,66.38 L513.53,66.35 L514.40,66.33 L517.66,66.30 L524.71,66.27 L534.89,66.25 L546.07,66.23 L556.14,66.21 L563.00,66.20 L563.00,89.20 Z" fill="#4a5868" fill-opacity="0.45" stroke="none"/>
<path d="M505.20,89.00 L505.36,88.97 L505.59,88.96 L505.86,88.91 L506.13,88.74 L506.40,88.40 L506.65,87.85 L506.91,87.14 L507.16,86.31 L507.43,85.42 L507.69,84.50 L507.97,83.53 L508.26,82.47 L508.55,81.38 L508.83,80.30 L509.09,79.30 L509.33,78.37 L509.55,77.49 L509.76,76.63 L509.97,75.81 L510.19,75.00 L510.40,74.21 L510.62,73.45 L510.84,72.71 L511.06,71.99 L511.28,71.30 L511.51,70.61 L511.75,69.92 L511.99,69.26 L512.24,68.68 L512.48,68.20 L512.71,67.86 L512.94,67.63 L513.17,67.48 L513.41,67.35 L513.67,67.20 L513.94,67.03 L514.20,66.87 L514.48,66.73 L514.80,66.60 L515.17,66.50 L514.92,66.43 L514.04,66.38 L513.53,66.35 L514.40,66.33 L517.66,66.30 L524.71,66.27 L534.89,66.25 L546.07,66.23 L556.14,66.21 L563.00,66.20" fill="none" stroke="#1a2438" stroke-width="0.7" stroke-linejoin="round"/>
<path d="M505.20,89.20 L505.20,89.00 L505.36,88.97 L505.59,88.96 L505.86,88.91 L506.13,88.74 L506.40,88.40 L506.65,87.85 L506.91,87.14 L507.16,86.31 L507.43,85.42 L507.69,84.50 L507.97,83.53 L508.26,82.47 L508.55,81.38 L508.83,80.30 L509.09,79.30 L509.33,78.37 L509.55,77.49 L509.76,76.63 L509.97,75.81 L510.19,75.00 L510.40,74.21 L510.62,73.45 L510.84,72.71 L511.06,71.99 L511.28,71.30 L511.51,70.60 L511.75,69.91 L511.99,69.25 L512.24,68.66 L512.48,68.20 L512.71,67.89 L512.94,67.71 L513.17,67.60 L513.41,67.52 L513.67,67.40 L513.94,67.24 L514.20,67.09 L514.48,66.94 L514.80,66.80 L515.17,66.70 L514.92,66.63 L514.04,66.60 L513.53,66.58 L514.40,66.57 L517.66,66.55 L524.71,66.53 L534.89,66.50 L546.07,66.48 L556.14,66.46 L563.00,66.45 L563.00,89.20 Z" fill="#2a1850" fill-opacity="0.3" stroke="none"/>
<path d="M505.20,89.00 L505.36,88.97 L505.59,88.96 L505.86,88.91 L506.13,88.74 L506.40,88.40 L506.65,87.85 L506.91,87.14 L507.16,86.31 L507.43,85.42 L507.69,84.50 L507.97,83.53 L508.26,82.47 L508.55,81.38 L508.83,80.30 L509.09,79.30 L509.33,78.37 L509.55,77.49 L509.76,76.63 L509.97,75.81 L510.19,75.00 L510.40,74.21 L510.62,73.45 L510.84,72.71 L511.06,71.99 L511.28,71.30 L511.51,70.60 L511.75,69.91 L511.99,69.25 L512.24,68.66 L512.48,68.20 L512.71,67.89 L512.94,67.71 L513.17,67.60 L513.41,67.52 L513.67,67.40 L513.94,67.24 L514.20,67.09 L514.48,66.94 L514.80,66.80 L515.17,66.70 L514.92,66.63 L514.04,66.60 L513.53,66.58 L514.40,66.57 L517.66,66.55 L524.71,66.53 L534.89,66.50 L546.07,66.48 L556.14,66.46 L563.00,66.45" fill="none" stroke="#1a0c3a" stroke-width="0.7" stroke-linejoin="round"/>
</g>
<g clip-path="url(#clip506b)">
<path d="M561.00,89.20 L561.00,89.00 L561.20,89.01 L561.49,89.10 L561.83,89.10 L562.18,88.79 L562.50,88.00 L562.79,86.59 L563.08,84.70 L563.37,82.50 L563.67,80.21 L564.01,78.00 L564.38,75.77 L564.80,73.38 L565.22,71.02 L565.64,68.83 L566.01,67.00 L566.33,65.58 L566.60,64.46 L566.87,63.55 L567.16,62.76 L567.52,62.00 L567.80,61.27 L567.99,60.64 L568.29,60.10 L568.90,59.62 L570.03,59.20 L571.43,58.89 L572.95,58.71 L574.99,58.56 L577.90,58.36 L582.07,58.00 L588.49,57.41 L596.90,56.64 L605.82,55.82 L613.75,55.10 L619.20,54.60 L619.20,89.20 Z" fill="#fff4a8" fill-opacity="0.4" stroke="none"/>
<path d="M561.00,89.00 L561.20,89.01 L561.49,89.10 L561.83,89.10 L562.18,88.79 L562.50,88.00 L562.79,86.59 L563.08,84.70 L563.37,82.50 L563.67,80.21 L564.01,78.00 L564.38,75.77 L564.80,73.38 L565.22,71.02 L565.64,68.83 L566.01,67.00 L566.33,65.58 L566.60,64.46 L566.87,63.55 L567.16,62.76 L567.52,62.00 L567.80,61.27 L567.99,60.64 L568.29,60.10 L568.90,59.62 L570.03,59.20 L571.43,58.89 L572.95,58.71 L574.99,58.56 L577.90,58.36 L582.07,58.00 L588.49,57.41 L596.90,56.64 L605.82,55.82 L613.75,55.10 L619.20,54.60" fill="none" stroke="#d8c860" stroke-width="0.7" stroke-linejoin="round"/>
<path d="M561.00,89.20 L561.00,89.00 L561.20,88.99 L561.49,89.06 L561.83,89.02 L562.18,88.73 L562.50,88.00 L562.79,86.74 L563.08,85.07 L563.37,83.13 L563.67,81.06 L564.01,79.00 L564.38,76.82 L564.77,74.43 L565.19,72.03 L565.60,69.82 L566.01,68.00 L566.40,66.62 L566.77,65.55 L567.15,64.71 L567.56,64.05 L568.02,63.50 L568.43,63.10 L568.77,62.89 L569.20,62.82 L569.90,62.81 L571.03,62.80 L572.58,62.78 L574.44,62.79 L576.62,62.85 L579.16,62.98 L582.07,63.20 L585.56,63.54 L589.59,64.00 L593.90,64.52 L598.18,65.04 L602.14,65.50 L606.02,65.94 L610.00,66.38 L613.75,66.80 L616.93,67.15 L619.20,67.40 L619.20,89.20 Z" fill="#fff040" fill-opacity="0.5" stroke="none"/>
<path d="M561.00,89.00 L561.20,88.99 L561.49,89.06 L561.83,89.02 L562.18,88.73 L562.50,88.00 L562.79,86.74 L563.08,85.07 L563.37,83.13 L563.67,81.06 L564.01,79.00 L564.38,76.82 L564.77,74.43 L565.19,72.03 L565.60,69.82 L566.01,68.00 L566.40,66.62 L566.77,65.55 L567.15,64.71 L567.56,64.05 L568.02,63.50 L568.43,63.10 L568.77,62.89 L569.20,62.82 L569.90,62.81 L571.03,62.80 L572.58,62.78 L574.44,62.79 L576.62,62.85 L579.16,62.98 L582.07,63.20 L585.56,63.54 L589.59,64.00 L593.90,64.52 L598.18,65.04 L602.14,65.50 L606.02,65.94 L610.00,66.38 L613.75,66.80 L616.93,67.15 L619.20,67.40" fill="none" stroke="#d8c000" stroke-width="0.7" stroke-linejoin="round"/>
<path d="M561.00,89.20 L561.00,89.00 L561.20,88.98 L561.49,89.01 L561.83,88.95 L562.18,88.66 L562.50,88.00 L562.79,86.89 L563.08,85.42 L563.37,83.72 L563.67,81.87 L564.01,80.00 L564.38,77.96 L564.77,75.67 L565.19,73.35 L565.60,71.22 L566.01,69.50 L566.40,68.23 L566.77,67.26 L567.15,66.54 L567.56,65.97 L568.02,65.50 L568.35,65.12 L568.53,64.88 L568.84,64.78 L569.58,64.82 L571.03,65.00 L573.15,65.37 L575.74,65.92 L578.88,66.60 L582.64,67.31 L587.09,68.00 L593.00,68.72 L600.32,69.53 L607.90,70.33 L614.58,71.02 L619.20,71.50 L619.20,89.20 Z" fill="#ffb438" fill-opacity="0.45" stroke="none"/>
<path d="M561.00,89.00 L561.20,88.98 L561.49,89.01 L561.83,88.95 L562.18,88.66 L562.50,88.00 L562.79,86.89 L563.08,85.42 L563.37,83.72 L563.67,81.87 L564.01,80.00 L564.38,77.96 L564.77,75.67 L565.19,73.35 L565.60,71.22 L566.01,69.50 L566.40,68.23 L566.77,67.26 L567.15,66.54 L567.56,65.97 L568.02,65.50 L568.35,65.12 L568.53,64.88 L568.84,64.78 L569.58,64.82 L571.03,65.00 L573.15,65.37 L575.74,65.92 L578.88,66.60 L582.64,67.31 L587.09,68.00 L593.00,68.72 L600.32,69.53 L607.90,70.33 L614.58,71.02 L619.20,71.50" fill="none" stroke="#e09010" stroke-width="0.7" stroke-linejoin="round"/>
<path d="M561.00,89.20 L561.00,89.00 L561.24,89.01 L561.59,89.09 L562.00,89.09 L562.42,88.87 L562.80,88.30 L563.15,87.27 L563.49,85.89 L563.83,84.29 L564.17,82.61 L564.51,81.00 L564.85,79.39 L565.20,77.70 L565.54,76.00 L565.88,74.41 L566.22,73.00 L566.54,71.78 L566.86,70.70 L567.18,69.74 L567.49,68.90 L567.82,68.20 L568.14,67.65 L568.46,67.25 L568.78,66.97 L569.13,66.77 L569.53,66.60 L569.94,66.47 L570.37,66.40 L570.84,66.40 L571.39,66.47 L572.04,66.60 L572.72,66.80 L573.42,67.06 L574.24,67.39 L575.28,67.80 L576.65,68.30 L578.39,68.93 L580.44,69.68 L582.72,70.50 L585.16,71.29 L587.69,72.00 L590.32,72.64 L593.10,73.25 L596.01,73.82 L599.03,74.31 L602.14,74.70 L605.66,74.96 L609.60,75.12 L613.48,75.20 L616.84,75.25 L619.20,75.30 L619.20,89.20 Z" fill="#f87038" fill-opacity="0.55" stroke="none"/>
<path d="M561.00,89.00 L561.24,89.01 L561.59,89.09 L562.00,89.09 L562.42,88.87 L562.80,88.30 L563.15,87.27 L563.49,85.89 L563.83,84.29 L564.17,82.61 L564.51,81.00 L564.85,79.39 L565.20,77.70 L565.54,76.00 L565.88,74.41 L566.22,73.00 L566.54,71.78 L566.86,70.70 L567.18,69.74 L567.49,68.90 L567.82,68.20 L568.14,67.65 L568.46,67.25 L568.78,66.97 L569.13,66.77 L569.53,66.60 L569.94,66.47 L570.37,66.40 L570.84,66.40 L571.39,66.47 L572.04,66.60 L572.72,66.80 L573.42,67.06 L574.24,67.39 L575.28,67.80 L576.65,68.30 L578.39,68.93 L580.44,69.68 L582.72,70.50 L585.16,71.29 L587.69,72.00 L590.32,72.64 L593.10,73.25 L596.01,73.82 L599.03,74.31 L602.14,74.70 L605.66,74.96 L609.60,75.12 L613.48,75.20 L616.84,75.25 L619.20,75.30" fill="none" stroke="#d85020" stroke-width="0.7" stroke-linejoin="round"/>
<path d="M561.00,89.20 L561.00,89.90 L561.24,89.91 L561.59,89.99 L562.00,89.99 L562.42,89.77 L562.80,89.20 L563.15,88.17 L563.49,86.79 L563.83,85.19 L564.17,83.51 L564.51,81.90 L564.85,80.29 L565.20,78.60 L565.54,76.90 L565.88,75.31 L566.22,73.90 L566.54,72.68 L566.86,71.60 L567.18,70.64 L567.49,69.80 L567.82,69.10 L568.14,68.55 L568.46,68.15 L568.78,67.87 L569.13,67.67 L569.53,67.50 L569.94,67.37 L570.37,67.30 L570.84,67.30 L571.39,67.37 L572.04,67.50 L572.72,67.70 L573.42,67.96 L574.24,68.29 L575.28,68.70 L576.65,69.20 L578.39,69.83 L580.44,70.58 L582.72,71.40 L585.16,72.19 L587.69,72.90 L590.32,73.54 L593.10,74.15 L596.01,74.72 L599.03,75.21 L602.14,75.60 L605.66,75.86 L609.60,76.02 L613.48,76.10 L616.84,76.15 L619.20,76.20 L619.20,89.20 Z" fill="#d04818" fill-opacity="0.5" stroke="none"/>
<path d="M561.00,89.90 L561.24,89.91 L561.59,89.99 L562.00,89.99 L562.42,89.77 L562.80,89.20 L563.15,88.17 L563.49,86.79 L563.83,85.19 L564.17,83.51 L564.51,81.90 L564.85,80.29 L565.20,78.60 L565.54,76.90 L565.88,75.31 L566.22,73.90 L566.54,72.68 L566.86,71.60 L567.18,70.64 L567.49,69.80 L567.82,69.10 L568.14,68.55 L568.46,68.15 L568.78,67.87 L569.13,67.67 L569.53,67.50 L569.94,67.37 L570.37,67.30 L570.84,67.30 L571.39,67.37 L572.04,67.50 L572.72,67.70 L573.42,67.96 L574.24,68.29 L575.28,68.70 L576.65,69.20 L578.39,69.83 L580.44,70.58 L582.72,71.40 L585.16,72.19 L587.69,72.90 L590.32,73.54 L593.10,74.15 L596.01,74.72 L599.03,75.21 L602.14,75.60 L605.66,75.86 L609.60,76.02 L613.48,76.10 L616.84,76.15 L619.20,76.20" fill="none" stroke="#a83008" stroke-width="0.7" stroke-linejoin="round"/>
<path d="M561.00,89.20 L561.00,90.80 L561.24,90.81 L561.59,90.89 L562.00,90.89 L562.42,90.67 L562.80,90.10 L563.15,89.07 L563.49,87.69 L563.83,86.09 L564.17,84.41 L564.51,82.80 L564.85,81.19 L565.20,79.50 L565.54,77.80 L565.88,76.21 L566.22,74.80 L566.54,73.58 L566.86,72.50 L567.18,71.54 L567.49,70.70 L567.82,70.00 L568.14,69.45 L568.46,69.05 L568.78,68.77 L569.13,68.57 L569.53,68.40 L569.94,68.27 L570.37,68.20 L570.84,68.20 L571.39,68.27 L572.04,68.40 L572.72,68.60 L573.42,68.86 L574.24,69.19 L575.28,69.60 L576.65,70.10 L578.39,70.73 L580.44,71.48 L582.72,72.30 L585.16,73.09 L587.69,73.80 L590.32,74.44 L593.10,75.05 L596.01,75.62 L599.03,76.11 L602.14,76.50 L605.66,76.76 L609.60,76.92 L613.48,77.00 L616.84,77.05 L619.20,77.10 L619.20,89.20 Z" fill="#a0142a" fill-opacity="0.2" stroke="none"/>
<path d="M561.00,90.80 L561.24,90.81 L561.59,90.89 L562.00,90.89 L562.42,90.67 L562.80,90.10 L563.15,89.07 L563.49,87.69 L563.83,86.09 L564.17,84.41 L564.51,82.80 L564.85,81.19 L565.20,79.50 L565.54,77.80 L565.88,76.21 L566.22,74.80 L566.54,73.58 L566.86,72.50 L567.18,71.54 L567.49,70.70 L567.82,70.00 L568.14,69.45 L568.46,69.05 L568.78,68.77 L569.13,68.57 L569.53,68.40 L569.94,68.27 L570.37,68.20 L570.84,68.20 L571.39,68.27 L572.04,68.40 L572.72,68.60 L573.42,68.86 L574.24,69.19 L575.28,69.60 L576.65,70.10 L578.39,70.73 L580.44,71.48 L582.72,72.30 L585.16,73.09 L587.69,73.80 L590.32,74.44 L593.10,75.05 L596.01,75.62 L599.03,76.11 L602.14,76.50 L605.66,76.76 L609.60,76.92 L613.48,77.00 L616.84,77.05 L619.20,77.10" fill="none" stroke="#800010" stroke-width="0.7" stroke-linejoin="round"/>
</g>
<rect x="506.2" y="32.5" width="112.00000000000006" height="55.7" fill="none" stroke="#111" stroke-width="1.05"/>
<line x1="562.00" y1="32.50" x2="562.00" y2="88.20" stroke="#111" stroke-width="1.05" />
<line x1="521.17" y1="32.50" x2="521.17" y2="34.00" stroke="#000" stroke-width="0.6" />
<text transform="translate(521.17,98.70) scale(1,1.15)" font-size="8.2" text-anchor="middle" font-weight="normal" fill="#111" stroke="#111" stroke-width="0.1" >20</text>
<line x1="537.24" y1="32.50" x2="537.24" y2="34.00" stroke="#000" stroke-width="0.6" />
<text transform="translate(537.24,98.70) scale(1,1.15)" font-size="8.2" text-anchor="middle" font-weight="normal" fill="#111" stroke="#111" stroke-width="0.1" >40</text>
<line x1="553.32" y1="32.50" x2="553.32" y2="34.00" stroke="#000" stroke-width="0.6" />
<text transform="translate(553.32,98.70) scale(1,1.15)" font-size="8.2" text-anchor="middle" font-weight="normal" fill="#111" stroke="#111" stroke-width="0.1" >60</text>
<text transform="translate(533.90,108.60) scale(1,1.15)" font-size="8.8" text-anchor="middle" font-weight="normal" fill="#111" stroke="#111" stroke-width="0.1" >Time (hrs)</text>
<line x1="577.08" y1="32.50" x2="577.08" y2="34.00" stroke="#000" stroke-width="0.6" />
<text transform="translate(577.08,98.70) scale(1,1.15)" font-size="8.2" text-anchor="middle" font-weight="normal" fill="#111" stroke="#111" stroke-width="0.1" >20</text>
<line x1="593.27" y1="32.50" x2="593.27" y2="34.00" stroke="#000" stroke-width="0.6" />
<text transform="translate(593.27,98.70) scale(1,1.15)" font-size="8.2" text-anchor="middle" font-weight="normal" fill="#111" stroke="#111" stroke-width="0.1" >40</text>
<line x1="609.45" y1="32.50" x2="609.45" y2="34.00" stroke="#000" stroke-width="0.6" />
<text transform="translate(609.45,98.70) scale(1,1.15)" font-size="8.2" text-anchor="middle" font-weight="normal" fill="#111" stroke="#111" stroke-width="0.1" >60</text>
<text transform="translate(589.90,108.60) scale(1,1.15)" font-size="8.8" text-anchor="middle" font-weight="normal" fill="#111" stroke="#111" stroke-width="0.1" >Time (hrs)</text>
<line x1="506.20" y1="32.30" x2="507.70" y2="32.30" stroke="#000" stroke-width="0.6" />
<text transform="translate(503.70,35.90) scale(1,1.15)" font-size="8.2" text-anchor="end" font-weight="normal" fill="#111" stroke="#111" stroke-width="0.1" >1.5</text>
<line x1="506.20" y1="53.30" x2="507.70" y2="53.30" stroke="#000" stroke-width="0.6" />
<text transform="translate(503.70,56.90) scale(1,1.15)" font-size="8.2" text-anchor="end" font-weight="normal" fill="#111" stroke="#111" stroke-width="0.1" >1</text>
<line x1="506.20" y1="74.30" x2="507.70" y2="74.30" stroke="#000" stroke-width="0.6" />
<text transform="translate(503.70,77.90) scale(1,1.15)" font-size="8.2" text-anchor="end" font-weight="normal" fill="#111" stroke="#111" stroke-width="0.1" >0.5</text>
<text transform="translate(534.10,43.60) scale(1,1.15)" font-size="9" text-anchor="middle" font-weight="bold" fill="#111" stroke="#111" stroke-width="0.3" >TBR1</text>
<text transform="translate(590.10,43.60) scale(1,1.15)" font-size="9" text-anchor="middle" font-weight="bold" fill="#111" stroke="#111" stroke-width="0.3" >TBRΔa</text>
<text transform="translate(489.4,62.4) rotate(-90)" font-size="9.2" text-anchor="middle" fill="#111" stroke="#111" stroke-width="0.1">OD<tspan font-size="6.6" dy="4.3">600</tspan></text>
<line x1="533.10" y1="119.60" x2="545.10" y2="119.60" stroke="#d0f8f8" stroke-width="1.5" />
<text transform="translate(545.60,122.60) scale(1,1.15)" font-size="8.6" text-anchor="start" font-weight="normal" fill="#111" stroke="#111" stroke-width="0.1" >0</text>
<line x1="562.90" y1="120.00" x2="574.90" y2="120.00" stroke="#fff8b0" stroke-width="1.5" />
<text transform="translate(575.40,123.00) scale(1,1.15)" font-size="8.6" text-anchor="start" font-weight="normal" fill="#111" stroke="#111" stroke-width="0.1" >0</text>
<line x1="533.10" y1="129.66" x2="545.10" y2="129.66" stroke="#70c0c8" stroke-width="1.5" />
<text transform="translate(545.60,132.66) scale(1,1.15)" font-size="8.6" text-anchor="start" font-weight="normal" fill="#111" stroke="#111" stroke-width="0.1" >50</text>
<line x1="562.90" y1="130.06" x2="574.90" y2="130.06" stroke="#fff040" stroke-width="1.5" />
<text transform="translate(575.40,133.06) scale(1,1.15)" font-size="8.6" text-anchor="start" font-weight="normal" fill="#111" stroke="#111" stroke-width="0.1" >50</text>
<line x1="533.10" y1="139.72" x2="545.10" y2="139.72" stroke="#50b890" stroke-width="1.5" />
<text transform="translate(545.60,142.72) scale(1,1.15)" font-size="8.6" text-anchor="start" font-weight="normal" fill="#111" stroke="#111" stroke-width="0.1" >75</text>
<line x1="562.90" y1="140.12" x2="574.90" y2="140.12" stroke="#ffb830" stroke-width="1.5" />
<text transform="translate(575.40,143.12) scale(1,1.15)" font-size="8.6" text-anchor="start" font-weight="normal" fill="#111" stroke="#111" stroke-width="0.1" >75</text>
<line x1="533.10" y1="149.78" x2="545.10" y2="149.78" stroke="#6a9a80" stroke-width="1.5" />
<text transform="translate(545.60,152.78) scale(1,1.15)" font-size="8.6" text-anchor="start" font-weight="normal" fill="#111" stroke="#111" stroke-width="0.1" >100</text>
<line x1="562.90" y1="150.18" x2="574.90" y2="150.18" stroke="#ff7040" stroke-width="1.5" />
<text transform="translate(575.40,153.18) scale(1,1.15)" font-size="8.6" text-anchor="start" font-weight="normal" fill="#111" stroke="#111" stroke-width="0.1" >100</text>
<line x1="533.10" y1="159.84" x2="545.10" y2="159.84" stroke="#606878" stroke-width="1.5" />
<text transform="translate(545.60,162.84) scale(1,1.15)" font-size="8.6" text-anchor="start" font-weight="normal" fill="#111" stroke="#111" stroke-width="0.1" >125</text>
<line x1="562.90" y1="160.24" x2="574.90" y2="160.24" stroke="#c84818" stroke-width="1.5" />
<text transform="translate(575.40,163.24) scale(1,1.15)" font-size="8.6" text-anchor="start" font-weight="normal" fill="#111" stroke="#111" stroke-width="0.1" >125</text>
<line x1="533.10" y1="169.90" x2="545.10" y2="169.90" stroke="#302050" stroke-width="1.5" />
<text transform="translate(545.60,172.90) scale(1,1.15)" font-size="8.6" text-anchor="start" font-weight="normal" fill="#111" stroke="#111" stroke-width="0.1" >150</text>
<line x1="562.90" y1="170.30" x2="574.90" y2="170.30" stroke="#a01828" stroke-width="1.5" />
<text transform="translate(575.40,173.30) scale(1,1.15)" font-size="8.6" text-anchor="start" font-weight="normal" fill="#111" stroke="#111" stroke-width="0.1" >150 μg/mL FLC</text>
<text transform="translate(7.80,184.80) scale(1,1.0)" font-size="16.5" text-anchor="start" font-weight="bold" fill="#000" stroke="#000" stroke-width="0.3" >e</text>
<rect x="33.50" y="200.20" width="587.70" height="115.40" fill="#cccccc" stroke="none" stroke-width="0" />
<rect x="74.80" y="221.00" width="4.05" height="71.60" fill="#c8ffff" stroke="#000" stroke-width="0.9" />
<rect x="78.85" y="231.00" width="4.05" height="61.60" fill="#80d0d0" stroke="#000" stroke-width="0.9" />
<rect x="82.90" y="250.00" width="4.05" height="42.60" fill="#70c098" stroke="#000" stroke-width="0.9" />
<rect x="86.95" y="268.00" width="4.05" height="24.60" fill="#508870" stroke="#000" stroke-width="0.9" />
<rect x="91.00" y="279.00" width="4.05" height="13.60" fill="#304050" stroke="#000" stroke-width="0.9" />
<rect x="95.05" y="285.00" width="4.05" height="7.60" fill="#200838" stroke="#000" stroke-width="0.9" />
<circle cx="76.83" cy="219.70" r="1.9" fill="#e00808" stroke="#900000" stroke-width="0.4"/>
<line x1="76.83" y1="218.50" x2="76.83" y2="220.90" stroke="#000" stroke-width="0.7" />
<line x1="75.92" y1="218.50" x2="77.73" y2="218.50" stroke="#000" stroke-width="0.8" />
<line x1="75.92" y1="220.90" x2="77.73" y2="220.90" stroke="#000" stroke-width="0.8" />
<circle cx="76.83" cy="219.70" r="0.75" fill="#300000"/>
<circle cx="80.88" cy="230.20" r="1.9" fill="#e00808" stroke="#900000" stroke-width="0.4"/>
<line x1="80.88" y1="229.00" x2="80.88" y2="231.40" stroke="#000" stroke-width="0.7" />
<line x1="79.97" y1="229.00" x2="81.78" y2="229.00" stroke="#000" stroke-width="0.8" />
<line x1="79.97" y1="231.40" x2="81.78" y2="231.40" stroke="#000" stroke-width="0.8" />
<circle cx="80.88" cy="230.20" r="0.75" fill="#300000"/>
<circle cx="84.92" cy="247.00" r="1.9" fill="#e00808" stroke="#900000" stroke-width="0.4"/>
<circle cx="84.92" cy="251.00" r="1.9" fill="#e00808" stroke="#900000" stroke-width="0.4"/>
<line x1="84.92" y1="245.00" x2="84.92" y2="252.00" stroke="#000" stroke-width="0.7" />
<line x1="84.02" y1="245.00" x2="85.83" y2="245.00" stroke="#000" stroke-width="0.8" />
<line x1="84.02" y1="252.00" x2="85.83" y2="252.00" stroke="#000" stroke-width="0.8" />
<circle cx="84.92" cy="247.00" r="0.75" fill="#300000"/>
<circle cx="84.92" cy="251.00" r="0.75" fill="#300000"/>
<circle cx="88.97" cy="262.80" r="1.9" fill="#e00808" stroke="#900000" stroke-width="0.4"/>
<circle cx="88.97" cy="273.30" r="1.9" fill="#e00808" stroke="#900000" stroke-width="0.4"/>
<line x1="88.97" y1="261.00" x2="88.97" y2="275.00" stroke="#000" stroke-width="0.7" />
<line x1="88.07" y1="261.00" x2="89.88" y2="261.00" stroke="#000" stroke-width="0.8" />
<line x1="88.07" y1="275.00" x2="89.88" y2="275.00" stroke="#000" stroke-width="0.8" />
<circle cx="88.97" cy="262.80" r="0.75" fill="#300000"/>
<circle cx="88.97" cy="273.30" r="0.75" fill="#300000"/>
<circle cx="93.03" cy="278.00" r="1.9" fill="#e00808" stroke="#900000" stroke-width="0.4"/>
<line x1="93.03" y1="272.70" x2="93.03" y2="280.00" stroke="#000" stroke-width="0.7" />
<line x1="92.12" y1="272.70" x2="93.93" y2="272.70" stroke="#000" stroke-width="0.8" />
<line x1="92.12" y1="280.00" x2="93.93" y2="280.00" stroke="#000" stroke-width="0.8" />
<circle cx="93.03" cy="278.00" r="0.75" fill="#300000"/>
<circle cx="97.08" cy="284.00" r="1.9" fill="#e00808" stroke="#900000" stroke-width="0.4"/>
<line x1="97.08" y1="278.00" x2="97.08" y2="286.00" stroke="#000" stroke-width="0.7" />
<line x1="96.17" y1="278.00" x2="97.98" y2="278.00" stroke="#000" stroke-width="0.8" />
<line x1="96.17" y1="286.00" x2="97.98" y2="286.00" stroke="#000" stroke-width="0.8" />
<circle cx="97.08" cy="284.00" r="0.75" fill="#300000"/>
<rect x="106.30" y="216.50" width="4.05" height="76.10" fill="#fff090" stroke="#000" stroke-width="0.9" />
<rect x="110.35" y="265.20" width="4.05" height="27.40" fill="#fff030" stroke="#000" stroke-width="0.9" />
<rect x="114.40" y="292.60" width="4.05" height="2.40" fill="#ffc030" stroke="#000" stroke-width="0.9" />
<rect x="118.45" y="292.60" width="4.05" height="3.40" fill="#ff7030" stroke="#000" stroke-width="0.9" />
<rect x="122.50" y="292.60" width="4.05" height="3.40" fill="#c04010" stroke="#000" stroke-width="0.9" />
<rect x="126.55" y="292.60" width="4.05" height="2.40" fill="#a00000" stroke="#000" stroke-width="0.9" />
<circle cx="108.33" cy="214.80" r="1.9" fill="#e00808" stroke="#900000" stroke-width="0.4"/>
<line x1="108.33" y1="213.60" x2="108.33" y2="216.00" stroke="#000" stroke-width="0.7" />
<line x1="107.42" y1="213.60" x2="109.23" y2="213.60" stroke="#000" stroke-width="0.8" />
<line x1="107.42" y1="216.00" x2="109.23" y2="216.00" stroke="#000" stroke-width="0.8" />
<circle cx="108.33" cy="214.80" r="0.75" fill="#300000"/>
<circle cx="112.38" cy="257.50" r="1.9" fill="#e00808" stroke="#900000" stroke-width="0.4"/>
<circle cx="112.38" cy="259.50" r="1.9" fill="#e00808" stroke="#900000" stroke-width="0.4"/>
<line x1="112.38" y1="255.00" x2="112.38" y2="263.00" stroke="#000" stroke-width="0.7" />
<line x1="111.47" y1="255.00" x2="113.28" y2="255.00" stroke="#000" stroke-width="0.8" />
<line x1="111.47" y1="263.00" x2="113.28" y2="263.00" stroke="#000" stroke-width="0.8" />
<circle cx="112.38" cy="257.50" r="0.75" fill="#300000"/>
<circle cx="112.38" cy="259.50" r="0.75" fill="#300000"/>
<circle cx="116.42" cy="296.50" r="1.9" fill="#e00808" stroke="#900000" stroke-width="0.4"/>
<circle cx="116.42" cy="299.00" r="1.9" fill="#e00808" stroke="#900000" stroke-width="0.4"/>
<line x1="116.42" y1="294.00" x2="116.42" y2="301.00" stroke="#000" stroke-width="0.7" />
<line x1="115.52" y1="294.00" x2="117.33" y2="294.00" stroke="#000" stroke-width="0.8" />
<line x1="115.52" y1="301.00" x2="117.33" y2="301.00" stroke="#000" stroke-width="0.8" />
<circle cx="116.42" cy="296.50" r="0.75" fill="#300000"/>
<circle cx="116.42" cy="299.00" r="0.75" fill="#300000"/>
<circle cx="120.47" cy="298.00" r="1.9" fill="#e00808" stroke="#900000" stroke-width="0.4"/>
<circle cx="120.47" cy="301.00" r="1.9" fill="#e00808" stroke="#900000" stroke-width="0.4"/>
<line x1="120.47" y1="295.00" x2="120.47" y2="304.00" stroke="#000" stroke-width="0.7" />
<line x1="119.57" y1="295.00" x2="121.38" y2="295.00" stroke="#000" stroke-width="0.8" />
<line x1="119.57" y1="304.00" x2="121.38" y2="304.00" stroke="#000" stroke-width="0.8" />
<circle cx="120.47" cy="298.00" r="0.75" fill="#300000"/>
<circle cx="120.47" cy="301.00" r="0.75" fill="#300000"/>
<circle cx="124.53" cy="298.50" r="1.9" fill="#e00808" stroke="#900000" stroke-width="0.4"/>
<circle cx="124.53" cy="300.50" r="1.9" fill="#e00808" stroke="#900000" stroke-width="0.4"/>
<line x1="124.53" y1="294.00" x2="124.53" y2="306.50" stroke="#000" stroke-width="0.7" />
<line x1="123.62" y1="294.00" x2="125.43" y2="294.00" stroke="#000" stroke-width="0.8" />
<line x1="123.62" y1="306.50" x2="125.43" y2="306.50" stroke="#000" stroke-width="0.8" />
<circle cx="124.53" cy="298.50" r="0.75" fill="#300000"/>
<circle cx="124.53" cy="300.50" r="0.75" fill="#300000"/>
<circle cx="128.57" cy="296.50" r="1.9" fill="#e00808" stroke="#900000" stroke-width="0.4"/>
<circle cx="128.57" cy="298.50" r="1.9" fill="#e00808" stroke="#900000" stroke-width="0.4"/>
<line x1="128.57" y1="294.00" x2="128.57" y2="300.00" stroke="#000" stroke-width="0.7" />
<line x1="127.67" y1="294.00" x2="129.47" y2="294.00" stroke="#000" stroke-width="0.8" />
<line x1="127.67" y1="300.00" x2="129.47" y2="300.00" stroke="#000" stroke-width="0.8" />
<circle cx="128.57" cy="296.50" r="0.75" fill="#300000"/>
<circle cx="128.57" cy="298.50" r="0.75" fill="#300000"/>
<rect x="223.50" y="218.50" width="4.05" height="74.10" fill="#c8ffff" stroke="#000" stroke-width="0.9" />
<rect x="227.55" y="220.00" width="4.05" height="72.60" fill="#80d0d0" stroke="#000" stroke-width="0.9" />
<rect x="231.60" y="221.00" width="4.05" height="71.60" fill="#70c098" stroke="#000" stroke-width="0.9" />
<rect x="235.65" y="224.50" width="4.05" height="68.10" fill="#508870" stroke="#000" stroke-width="0.9" />
<rect x="239.70" y="232.00" width="4.05" height="60.60" fill="#304050" stroke="#000" stroke-width="0.9" />
<rect x="243.75" y="240.50" width="4.05" height="52.10" fill="#200838" stroke="#000" stroke-width="0.9" />
<circle cx="225.53" cy="216.10" r="1.9" fill="#e00808" stroke="#900000" stroke-width="0.4"/>
<line x1="225.53" y1="214.90" x2="225.53" y2="217.30" stroke="#000" stroke-width="0.7" />
<line x1="224.62" y1="214.90" x2="226.43" y2="214.90" stroke="#000" stroke-width="0.8" />
<line x1="224.62" y1="217.30" x2="226.43" y2="217.30" stroke="#000" stroke-width="0.8" />
<circle cx="225.53" cy="216.10" r="0.75" fill="#300000"/>
<circle cx="229.58" cy="218.00" r="1.9" fill="#e00808" stroke="#900000" stroke-width="0.4"/>
<line x1="229.58" y1="216.80" x2="229.58" y2="219.20" stroke="#000" stroke-width="0.7" />
<line x1="228.68" y1="216.80" x2="230.48" y2="216.80" stroke="#000" stroke-width="0.8" />
<line x1="228.68" y1="219.20" x2="230.48" y2="219.20" stroke="#000" stroke-width="0.8" />
<circle cx="229.58" cy="218.00" r="0.75" fill="#300000"/>
<circle cx="233.62" cy="217.50" r="1.9" fill="#e00808" stroke="#900000" stroke-width="0.4"/>
<circle cx="233.62" cy="219.50" r="1.9" fill="#e00808" stroke="#900000" stroke-width="0.4"/>
<line x1="233.62" y1="216.50" x2="233.62" y2="221.00" stroke="#000" stroke-width="0.7" />
<line x1="232.72" y1="216.50" x2="234.53" y2="216.50" stroke="#000" stroke-width="0.8" />
<line x1="232.72" y1="221.00" x2="234.53" y2="221.00" stroke="#000" stroke-width="0.8" />
<circle cx="233.62" cy="217.50" r="0.75" fill="#300000"/>
<circle cx="233.62" cy="219.50" r="0.75" fill="#300000"/>
<circle cx="237.68" cy="221.90" r="1.9" fill="#e00808" stroke="#900000" stroke-width="0.4"/>
<line x1="237.68" y1="220.70" x2="237.68" y2="223.10" stroke="#000" stroke-width="0.7" />
<line x1="236.78" y1="220.70" x2="238.58" y2="220.70" stroke="#000" stroke-width="0.8" />
<line x1="236.78" y1="223.10" x2="238.58" y2="223.10" stroke="#000" stroke-width="0.8" />
<circle cx="237.68" cy="221.90" r="0.75" fill="#300000"/>
<circle cx="241.72" cy="229.20" r="1.9" fill="#e00808" stroke="#900000" stroke-width="0.4"/>
<line x1="241.72" y1="227.50" x2="241.72" y2="231.00" stroke="#000" stroke-width="0.7" />
<line x1="240.82" y1="227.50" x2="242.62" y2="227.50" stroke="#000" stroke-width="0.8" />
<line x1="240.82" y1="231.00" x2="242.62" y2="231.00" stroke="#000" stroke-width="0.8" />
<circle cx="241.72" cy="229.20" r="0.75" fill="#300000"/>
<circle cx="245.78" cy="236.00" r="1.9" fill="#e00808" stroke="#900000" stroke-width="0.4"/>
<circle cx="245.78" cy="238.80" r="1.9" fill="#e00808" stroke="#900000" stroke-width="0.4"/>
<line x1="245.78" y1="234.50" x2="245.78" y2="240.50" stroke="#000" stroke-width="0.7" />
<line x1="244.88" y1="234.50" x2="246.68" y2="234.50" stroke="#000" stroke-width="0.8" />
<line x1="244.88" y1="240.50" x2="246.68" y2="240.50" stroke="#000" stroke-width="0.8" />
<circle cx="245.78" cy="236.00" r="0.75" fill="#300000"/>
<circle cx="245.78" cy="238.80" r="0.75" fill="#300000"/>
<rect x="255.50" y="220.00" width="4.05" height="72.60" fill="#fff090" stroke="#000" stroke-width="0.9" />
<rect x="259.55" y="226.00" width="4.05" height="66.60" fill="#fff030" stroke="#000" stroke-width="0.9" />
<rect x="263.60" y="229.00" width="4.05" height="63.60" fill="#ffc030" stroke="#000" stroke-width="0.9" />
<rect x="267.65" y="233.00" width="4.05" height="59.60" fill="#ff7030" stroke="#000" stroke-width="0.9" />
<rect x="271.70" y="240.50" width="4.05" height="52.10" fill="#c04010" stroke="#000" stroke-width="0.9" />
<rect x="275.75" y="249.00" width="4.05" height="43.60" fill="#a00000" stroke="#000" stroke-width="0.9" />
<circle cx="257.52" cy="217.70" r="1.9" fill="#e00808" stroke="#900000" stroke-width="0.4"/>
<line x1="257.52" y1="216.50" x2="257.52" y2="218.90" stroke="#000" stroke-width="0.7" />
<line x1="256.62" y1="216.50" x2="258.42" y2="216.50" stroke="#000" stroke-width="0.8" />
<line x1="256.62" y1="218.90" x2="258.42" y2="218.90" stroke="#000" stroke-width="0.8" />
<circle cx="257.52" cy="217.70" r="0.75" fill="#300000"/>
<circle cx="261.57" cy="220.50" r="1.9" fill="#e00808" stroke="#900000" stroke-width="0.4"/>
<circle cx="261.57" cy="223.40" r="1.9" fill="#e00808" stroke="#900000" stroke-width="0.4"/>
<line x1="261.57" y1="219.50" x2="261.57" y2="224.50" stroke="#000" stroke-width="0.7" />
<line x1="260.68" y1="219.50" x2="262.47" y2="219.50" stroke="#000" stroke-width="0.8" />
<line x1="260.68" y1="224.50" x2="262.47" y2="224.50" stroke="#000" stroke-width="0.8" />
<circle cx="261.57" cy="220.50" r="0.75" fill="#300000"/>
<circle cx="261.57" cy="223.40" r="0.75" fill="#300000"/>
<circle cx="265.62" cy="225.00" r="1.9" fill="#e00808" stroke="#900000" stroke-width="0.4"/>
<line x1="265.62" y1="223.80" x2="265.62" y2="226.20" stroke="#000" stroke-width="0.7" />
<line x1="264.73" y1="223.80" x2="266.52" y2="223.80" stroke="#000" stroke-width="0.8" />
<line x1="264.73" y1="226.20" x2="266.52" y2="226.20" stroke="#000" stroke-width="0.8" />
<circle cx="265.62" cy="225.00" r="0.75" fill="#300000"/>
<circle cx="269.67" cy="229.20" r="1.9" fill="#e00808" stroke="#900000" stroke-width="0.4"/>
<line x1="269.67" y1="228.00" x2="269.67" y2="232.00" stroke="#000" stroke-width="0.7" />
<line x1="268.77" y1="228.00" x2="270.57" y2="228.00" stroke="#000" stroke-width="0.8" />
<line x1="268.77" y1="232.00" x2="270.57" y2="232.00" stroke="#000" stroke-width="0.8" />
<circle cx="269.67" cy="229.20" r="0.75" fill="#300000"/>
<circle cx="273.72" cy="235.00" r="1.9" fill="#e00808" stroke="#900000" stroke-width="0.4"/>
<circle cx="273.72" cy="237.00" r="1.9" fill="#e00808" stroke="#900000" stroke-width="0.4"/>
<line x1="273.72" y1="232.00" x2="273.72" y2="239.00" stroke="#000" stroke-width="0.7" />
<line x1="272.82" y1="232.00" x2="274.62" y2="232.00" stroke="#000" stroke-width="0.8" />
<line x1="272.82" y1="239.00" x2="274.62" y2="239.00" stroke="#000" stroke-width="0.8" />
<circle cx="273.72" cy="235.00" r="0.75" fill="#300000"/>
<circle cx="273.72" cy="237.00" r="0.75" fill="#300000"/>
<circle cx="277.77" cy="245.50" r="1.9" fill="#e00808" stroke="#900000" stroke-width="0.4"/>
<line x1="277.77" y1="243.00" x2="277.77" y2="248.50" stroke="#000" stroke-width="0.7" />
<line x1="276.88" y1="243.00" x2="278.67" y2="243.00" stroke="#000" stroke-width="0.8" />
<line x1="276.88" y1="248.50" x2="278.67" y2="248.50" stroke="#000" stroke-width="0.8" />
<circle cx="277.77" cy="245.50" r="0.75" fill="#300000"/>
<rect x="371.30" y="229.00" width="4.05" height="63.60" fill="#c8ffff" stroke="#000" stroke-width="0.9" />
<rect x="375.35" y="244.00" width="4.05" height="48.60" fill="#80d0d0" stroke="#000" stroke-width="0.9" />
<rect x="379.40" y="259.50" width="4.05" height="33.10" fill="#70c098" stroke="#000" stroke-width="0.9" />
<rect x="383.45" y="252.80" width="4.05" height="39.80" fill="#508870" stroke="#000" stroke-width="0.9" />
<rect x="387.50" y="263.00" width="4.05" height="29.60" fill="#304050" stroke="#000" stroke-width="0.9" />
<rect x="391.55" y="257.00" width="4.05" height="35.60" fill="#200838" stroke="#000" stroke-width="0.9" />
<circle cx="373.32" cy="227.00" r="1.9" fill="#e00808" stroke="#900000" stroke-width="0.4"/>
<circle cx="373.32" cy="230.50" r="1.9" fill="#e00808" stroke="#900000" stroke-width="0.4"/>
<line x1="373.32" y1="223.50" x2="373.32" y2="232.00" stroke="#000" stroke-width="0.7" />
<line x1="372.43" y1="223.50" x2="374.22" y2="223.50" stroke="#000" stroke-width="0.8" />
<line x1="372.43" y1="232.00" x2="374.22" y2="232.00" stroke="#000" stroke-width="0.8" />
<circle cx="373.32" cy="227.00" r="0.75" fill="#300000"/>
<circle cx="373.32" cy="230.50" r="0.75" fill="#300000"/>
<circle cx="377.38" cy="239.90" r="1.9" fill="#e00808" stroke="#900000" stroke-width="0.4"/>
<circle cx="377.38" cy="249.30" r="1.9" fill="#e00808" stroke="#900000" stroke-width="0.4"/>
<line x1="377.38" y1="238.00" x2="377.38" y2="250.00" stroke="#000" stroke-width="0.7" />
<line x1="376.48" y1="238.00" x2="378.27" y2="238.00" stroke="#000" stroke-width="0.8" />
<line x1="376.48" y1="250.00" x2="378.27" y2="250.00" stroke="#000" stroke-width="0.8" />
<circle cx="377.38" cy="239.90" r="0.75" fill="#300000"/>
<circle cx="377.38" cy="249.30" r="0.75" fill="#300000"/>
<circle cx="381.43" cy="257.00" r="1.9" fill="#e00808" stroke="#900000" stroke-width="0.4"/>
<line x1="381.43" y1="255.80" x2="381.43" y2="258.20" stroke="#000" stroke-width="0.7" />
<line x1="380.53" y1="255.80" x2="382.32" y2="255.80" stroke="#000" stroke-width="0.8" />
<line x1="380.53" y1="258.20" x2="382.32" y2="258.20" stroke="#000" stroke-width="0.8" />
<circle cx="381.43" cy="257.00" r="0.75" fill="#300000"/>
<circle cx="385.47" cy="258.70" r="1.9" fill="#e00808" stroke="#900000" stroke-width="0.4"/>
<circle cx="385.47" cy="263.30" r="1.9" fill="#e00808" stroke="#900000" stroke-width="0.4"/>
<line x1="385.47" y1="236.40" x2="385.47" y2="266.90" stroke="#000" stroke-width="0.7" />
<line x1="384.57" y1="236.40" x2="386.37" y2="236.40" stroke="#000" stroke-width="0.8" />
<line x1="384.57" y1="266.90" x2="386.37" y2="266.90" stroke="#000" stroke-width="0.8" />
<circle cx="385.47" cy="258.70" r="0.75" fill="#300000"/>
<circle cx="385.47" cy="263.30" r="0.75" fill="#300000"/>
<circle cx="389.52" cy="262.20" r="1.9" fill="#e00808" stroke="#900000" stroke-width="0.4"/>
<line x1="389.52" y1="261.00" x2="389.52" y2="263.40" stroke="#000" stroke-width="0.7" />
<line x1="388.62" y1="261.00" x2="390.42" y2="261.00" stroke="#000" stroke-width="0.8" />
<line x1="388.62" y1="263.40" x2="390.42" y2="263.40" stroke="#000" stroke-width="0.8" />
<circle cx="389.52" cy="262.20" r="0.75" fill="#300000"/>
<circle cx="393.57" cy="256.30" r="1.9" fill="#e00808" stroke="#900000" stroke-width="0.4"/>
<line x1="393.57" y1="255.10" x2="393.57" y2="257.50" stroke="#000" stroke-width="0.7" />
<line x1="392.68" y1="255.10" x2="394.47" y2="255.10" stroke="#000" stroke-width="0.8" />
<line x1="392.68" y1="257.50" x2="394.47" y2="257.50" stroke="#000" stroke-width="0.8" />
<circle cx="393.57" cy="256.30" r="0.75" fill="#300000"/>
<rect x="407.25" y="268.00" width="4.05" height="24.60" fill="#c8c040" stroke="#000" stroke-width="0.9" />
<rect x="403.20" y="215.60" width="4.05" height="77.00" fill="#fff090" stroke="#000" stroke-width="0.9" />
<rect x="407.25" y="278.60" width="4.05" height="14.00" fill="#fff030" stroke="#000" stroke-width="0.9" />
<rect x="411.30" y="286.00" width="4.05" height="6.60" fill="#ffc030" stroke="#000" stroke-width="0.9" />
<rect x="415.35" y="286.50" width="4.05" height="6.10" fill="#ff7030" stroke="#000" stroke-width="0.9" />
<rect x="419.40" y="286.00" width="4.05" height="6.60" fill="#c04010" stroke="#000" stroke-width="0.9" />
<rect x="423.45" y="286.00" width="4.05" height="6.60" fill="#a00000" stroke="#000" stroke-width="0.9" />
<circle cx="405.22" cy="212.90" r="1.9" fill="#e00808" stroke="#900000" stroke-width="0.4"/>
<line x1="405.22" y1="211.70" x2="405.22" y2="214.10" stroke="#000" stroke-width="0.7" />
<line x1="404.32" y1="211.70" x2="406.12" y2="211.70" stroke="#000" stroke-width="0.8" />
<line x1="404.32" y1="214.10" x2="406.12" y2="214.10" stroke="#000" stroke-width="0.8" />
<circle cx="405.22" cy="212.90" r="0.75" fill="#300000"/>
<circle cx="409.27" cy="256.30" r="1.9" fill="#e00808" stroke="#900000" stroke-width="0.4"/>
<circle cx="409.27" cy="269.20" r="1.9" fill="#e00808" stroke="#900000" stroke-width="0.4"/>
<line x1="409.27" y1="256.00" x2="409.27" y2="285.00" stroke="#000" stroke-width="0.7" />
<line x1="408.38" y1="256.00" x2="410.17" y2="256.00" stroke="#000" stroke-width="0.8" />
<line x1="408.38" y1="285.00" x2="410.17" y2="285.00" stroke="#000" stroke-width="0.8" />
<circle cx="409.27" cy="256.30" r="0.75" fill="#300000"/>
<circle cx="409.27" cy="269.20" r="0.75" fill="#300000"/>
<circle cx="413.32" cy="285.60" r="1.9" fill="#e00808" stroke="#900000" stroke-width="0.4"/>
<line x1="413.32" y1="284.40" x2="413.32" y2="286.80" stroke="#000" stroke-width="0.7" />
<line x1="412.43" y1="284.40" x2="414.22" y2="284.40" stroke="#000" stroke-width="0.8" />
<line x1="412.43" y1="286.80" x2="414.22" y2="286.80" stroke="#000" stroke-width="0.8" />
<circle cx="413.32" cy="285.60" r="0.75" fill="#300000"/>
<circle cx="417.37" cy="285.20" r="1.9" fill="#e00808" stroke="#900000" stroke-width="0.4"/>
<line x1="417.37" y1="284.00" x2="417.37" y2="286.40" stroke="#000" stroke-width="0.7" />
<line x1="416.47" y1="284.00" x2="418.27" y2="284.00" stroke="#000" stroke-width="0.8" />
<line x1="416.47" y1="286.40" x2="418.27" y2="286.40" stroke="#000" stroke-width="0.8" />
<circle cx="417.37" cy="285.20" r="0.75" fill="#300000"/>
<circle cx="421.42" cy="285.80" r="1.9" fill="#e00808" stroke="#900000" stroke-width="0.4"/>
<line x1="421.42" y1="284.60" x2="421.42" y2="287.00" stroke="#000" stroke-width="0.7" />
<line x1="420.52" y1="284.60" x2="422.32" y2="284.60" stroke="#000" stroke-width="0.8" />
<line x1="420.52" y1="287.00" x2="422.32" y2="287.00" stroke="#000" stroke-width="0.8" />
<circle cx="421.42" cy="285.80" r="0.75" fill="#300000"/>
<circle cx="425.47" cy="284.80" r="1.9" fill="#e00808" stroke="#900000" stroke-width="0.4"/>
<line x1="425.47" y1="283.60" x2="425.47" y2="286.00" stroke="#000" stroke-width="0.7" />
<line x1="424.57" y1="283.60" x2="426.37" y2="283.60" stroke="#000" stroke-width="0.8" />
<line x1="424.57" y1="286.00" x2="426.37" y2="286.00" stroke="#000" stroke-width="0.8" />
<circle cx="425.47" cy="284.80" r="0.75" fill="#300000"/>
<rect x="523.40" y="229.80" width="4.05" height="62.80" fill="#c8ffff" stroke="#000" stroke-width="0.9" />
<rect x="527.45" y="232.00" width="4.05" height="60.60" fill="#80d0d0" stroke="#000" stroke-width="0.9" />
<rect x="531.50" y="230.80" width="4.05" height="61.80" fill="#70c098" stroke="#000" stroke-width="0.9" />
<rect x="535.55" y="231.50" width="4.05" height="61.10" fill="#508870" stroke="#000" stroke-width="0.9" />
<rect x="539.60" y="229.80" width="4.05" height="62.80" fill="#304050" stroke="#000" stroke-width="0.9" />
<rect x="543.65" y="231.50" width="4.05" height="61.10" fill="#200838" stroke="#000" stroke-width="0.9" />
<circle cx="525.42" cy="228.20" r="1.9" fill="#e00808" stroke="#900000" stroke-width="0.4"/>
<line x1="525.42" y1="227.00" x2="525.42" y2="229.40" stroke="#000" stroke-width="0.7" />
<line x1="524.52" y1="227.00" x2="526.32" y2="227.00" stroke="#000" stroke-width="0.8" />
<line x1="524.52" y1="229.40" x2="526.32" y2="229.40" stroke="#000" stroke-width="0.8" />
<circle cx="525.42" cy="228.20" r="0.75" fill="#300000"/>
<circle cx="529.47" cy="230.50" r="1.9" fill="#e00808" stroke="#900000" stroke-width="0.4"/>
<line x1="529.47" y1="229.30" x2="529.47" y2="231.70" stroke="#000" stroke-width="0.7" />
<line x1="528.57" y1="229.30" x2="530.37" y2="229.30" stroke="#000" stroke-width="0.8" />
<line x1="528.57" y1="231.70" x2="530.37" y2="231.70" stroke="#000" stroke-width="0.8" />
<circle cx="529.47" cy="230.50" r="0.75" fill="#300000"/>
<circle cx="533.52" cy="229.30" r="1.9" fill="#e00808" stroke="#900000" stroke-width="0.4"/>
<line x1="533.52" y1="228.10" x2="533.52" y2="230.50" stroke="#000" stroke-width="0.7" />
<line x1="532.62" y1="228.10" x2="534.42" y2="228.10" stroke="#000" stroke-width="0.8" />
<line x1="532.62" y1="230.50" x2="534.42" y2="230.50" stroke="#000" stroke-width="0.8" />
<circle cx="533.52" cy="229.30" r="0.75" fill="#300000"/>
<circle cx="537.57" cy="230.00" r="1.9" fill="#e00808" stroke="#900000" stroke-width="0.4"/>
<line x1="537.57" y1="228.80" x2="537.57" y2="231.20" stroke="#000" stroke-width="0.7" />
<line x1="536.67" y1="228.80" x2="538.47" y2="228.80" stroke="#000" stroke-width="0.8" />
<line x1="536.67" y1="231.20" x2="538.47" y2="231.20" stroke="#000" stroke-width="0.8" />
<circle cx="537.57" cy="230.00" r="0.75" fill="#300000"/>
<circle cx="541.62" cy="228.20" r="1.9" fill="#e00808" stroke="#900000" stroke-width="0.4"/>
<line x1="541.62" y1="227.00" x2="541.62" y2="229.40" stroke="#000" stroke-width="0.7" />
<line x1="540.73" y1="227.00" x2="542.52" y2="227.00" stroke="#000" stroke-width="0.8" />
<line x1="540.73" y1="229.40" x2="542.52" y2="229.40" stroke="#000" stroke-width="0.8" />
<circle cx="541.62" cy="228.20" r="0.75" fill="#300000"/>
<circle cx="545.67" cy="230.00" r="1.9" fill="#e00808" stroke="#900000" stroke-width="0.4"/>
<line x1="545.67" y1="228.00" x2="545.67" y2="233.00" stroke="#000" stroke-width="0.7" />
<line x1="544.77" y1="228.00" x2="546.57" y2="228.00" stroke="#000" stroke-width="0.8" />
<line x1="544.77" y1="233.00" x2="546.57" y2="233.00" stroke="#000" stroke-width="0.8" />
<circle cx="545.67" cy="230.00" r="0.75" fill="#300000"/>
<rect x="555.30" y="218.20" width="4.05" height="10.00" fill="#b8b890" stroke="#000" stroke-width="0.9" />
<rect x="555.30" y="223.50" width="4.05" height="69.10" fill="#fff090" stroke="#000" stroke-width="0.9" />
<rect x="559.35" y="227.60" width="4.05" height="65.00" fill="#fff030" stroke="#000" stroke-width="0.9" />
<rect x="563.40" y="235.30" width="4.05" height="57.30" fill="#ffc030" stroke="#000" stroke-width="0.9" />
<rect x="567.45" y="233.20" width="4.05" height="59.40" fill="#ff7030" stroke="#000" stroke-width="0.9" />
<rect x="571.50" y="232.00" width="4.05" height="60.60" fill="#c04010" stroke="#000" stroke-width="0.9" />
<rect x="575.55" y="235.50" width="4.05" height="57.10" fill="#a00000" stroke="#000" stroke-width="0.9" />
<circle cx="557.32" cy="214.00" r="1.9" fill="#e00808" stroke="#900000" stroke-width="0.4"/>
<circle cx="557.32" cy="222.50" r="1.9" fill="#e00808" stroke="#900000" stroke-width="0.4"/>
<line x1="557.32" y1="216.00" x2="557.32" y2="224.00" stroke="#000" stroke-width="0.7" />
<line x1="556.42" y1="216.00" x2="558.22" y2="216.00" stroke="#000" stroke-width="0.8" />
<line x1="556.42" y1="224.00" x2="558.22" y2="224.00" stroke="#000" stroke-width="0.8" />
<circle cx="557.32" cy="214.00" r="0.75" fill="#300000"/>
<circle cx="557.32" cy="222.50" r="0.75" fill="#300000"/>
<circle cx="561.37" cy="224.20" r="1.9" fill="#e00808" stroke="#900000" stroke-width="0.4"/>
<line x1="561.37" y1="223.00" x2="561.37" y2="225.40" stroke="#000" stroke-width="0.7" />
<line x1="560.47" y1="223.00" x2="562.27" y2="223.00" stroke="#000" stroke-width="0.8" />
<line x1="560.47" y1="225.40" x2="562.27" y2="225.40" stroke="#000" stroke-width="0.8" />
<circle cx="561.37" cy="224.20" r="0.75" fill="#300000"/>
<circle cx="565.42" cy="233.20" r="1.9" fill="#e00808" stroke="#900000" stroke-width="0.4"/>
<line x1="565.42" y1="232.00" x2="565.42" y2="234.40" stroke="#000" stroke-width="0.7" />
<line x1="564.52" y1="232.00" x2="566.32" y2="232.00" stroke="#000" stroke-width="0.8" />
<line x1="564.52" y1="234.40" x2="566.32" y2="234.40" stroke="#000" stroke-width="0.8" />
<circle cx="565.42" cy="233.20" r="0.75" fill="#300000"/>
<circle cx="569.47" cy="229.30" r="1.9" fill="#e00808" stroke="#900000" stroke-width="0.4"/>
<line x1="569.47" y1="228.10" x2="569.47" y2="230.50" stroke="#000" stroke-width="0.7" />
<line x1="568.57" y1="228.10" x2="570.37" y2="228.10" stroke="#000" stroke-width="0.8" />
<line x1="568.57" y1="230.50" x2="570.37" y2="230.50" stroke="#000" stroke-width="0.8" />
<circle cx="569.47" cy="229.30" r="0.75" fill="#300000"/>
<circle cx="573.52" cy="225.90" r="1.9" fill="#e00808" stroke="#900000" stroke-width="0.4"/>
<circle cx="573.52" cy="230.20" r="1.9" fill="#e00808" stroke="#900000" stroke-width="0.4"/>
<line x1="573.52" y1="225.00" x2="573.52" y2="233.00" stroke="#000" stroke-width="0.7" />
<line x1="572.62" y1="225.00" x2="574.42" y2="225.00" stroke="#000" stroke-width="0.8" />
<line x1="572.62" y1="233.00" x2="574.42" y2="233.00" stroke="#000" stroke-width="0.8" />
<circle cx="573.52" cy="225.90" r="0.75" fill="#300000"/>
<circle cx="573.52" cy="230.20" r="0.75" fill="#300000"/>
<circle cx="577.57" cy="229.30" r="1.9" fill="#e00808" stroke="#900000" stroke-width="0.4"/>
<circle cx="577.57" cy="234.00" r="1.9" fill="#e00808" stroke="#900000" stroke-width="0.4"/>
<line x1="577.57" y1="228.00" x2="577.57" y2="236.00" stroke="#000" stroke-width="0.7" />
<line x1="576.67" y1="228.00" x2="578.47" y2="228.00" stroke="#000" stroke-width="0.8" />
<line x1="576.67" y1="236.00" x2="578.47" y2="236.00" stroke="#000" stroke-width="0.8" />
<circle cx="577.57" cy="229.30" r="0.75" fill="#300000"/>
<circle cx="577.57" cy="234.00" r="0.75" fill="#300000"/>
<line x1="33.50" y1="292.60" x2="621.20" y2="292.60" stroke="#000" stroke-width="1.3" />
<rect x="33.5" y="200.2" width="587.7" height="115.40000000000003" fill="none" stroke="#000" stroke-width="1.3"/>
<line x1="33.50" y1="223.36" x2="37.00" y2="223.36" stroke="#000" stroke-width="0.9" />
<line x1="621.20" y1="223.36" x2="617.70" y2="223.36" stroke="#000" stroke-width="0.9" />
<line x1="33.50" y1="246.44" x2="37.00" y2="246.44" stroke="#000" stroke-width="0.9" />
<line x1="621.20" y1="246.44" x2="617.70" y2="246.44" stroke="#000" stroke-width="0.9" />
<line x1="33.50" y1="269.52" x2="37.00" y2="269.52" stroke="#000" stroke-width="0.9" />
<line x1="621.20" y1="269.52" x2="617.70" y2="269.52" stroke="#000" stroke-width="0.9" />
<text transform="translate(29.60,203.80) scale(1,1.15)" font-size="10" text-anchor="end" font-weight="normal" fill="#111" stroke="#111" stroke-width="0.1" >200</text>
<text transform="translate(29.60,227.86) scale(1,1.15)" font-size="10" text-anchor="end" font-weight="normal" fill="#111" stroke="#111" stroke-width="0.1" >150</text>
<text transform="translate(29.60,250.94) scale(1,1.15)" font-size="10" text-anchor="end" font-weight="normal" fill="#111" stroke="#111" stroke-width="0.1" >100</text>
<text transform="translate(29.60,274.02) scale(1,1.15)" font-size="10" text-anchor="end" font-weight="normal" fill="#111" stroke="#111" stroke-width="0.1" >50</text>
<text transform="translate(29.60,297.10) scale(1,1.15)" font-size="10" text-anchor="end" font-weight="normal" fill="#111" stroke="#111" stroke-width="0.1" >0</text>
<text transform="translate(29.60,320.10) scale(1,1.15)" font-size="10" text-anchor="end" font-weight="normal" fill="#111" stroke="#111" stroke-width="0.1" >-50</text>
<line x1="102.50" y1="200.20" x2="102.50" y2="204.00" stroke="#000" stroke-width="0.9" />
<line x1="102.50" y1="315.60" x2="102.50" y2="311.80" stroke="#000" stroke-width="0.9" />
<text transform="translate(102.50,329.20) scale(1,1.15)" font-size="10.6" text-anchor="middle" font-weight="normal" fill="#111" stroke="#111" stroke-width="0.1" >H<tspan font-size="7.5" dy="3.8">2</tspan><tspan dy="-3.8">O</tspan><tspan font-size="7.5" dy="3.8">2</tspan></text>
<text transform="translate(86.40,192.70) scale(1,1.15)" font-size="9.2" text-anchor="middle" font-weight="normal" fill="#111" stroke="#111" stroke-width="0.1" >TBR1</text>
<text transform="translate(117.70,192.70) scale(1,1.15)" font-size="9.2" text-anchor="middle" font-weight="normal" fill="#111" stroke="#111" stroke-width="0.1" >TBRΔa</text>
<line x1="251.60" y1="200.20" x2="251.60" y2="204.00" stroke="#000" stroke-width="0.9" />
<line x1="251.60" y1="315.60" x2="251.60" y2="311.80" stroke="#000" stroke-width="0.9" />
<text transform="translate(251.60,329.20) scale(1,1.15)" font-size="10.6" text-anchor="middle" font-weight="normal" fill="#111" stroke="#111" stroke-width="0.1" >AmB</text>
<text transform="translate(235.50,192.70) scale(1,1.15)" font-size="9.2" text-anchor="middle" font-weight="normal" fill="#111" stroke="#111" stroke-width="0.1" >TBR1</text>
<text transform="translate(266.80,192.70) scale(1,1.15)" font-size="9.2" text-anchor="middle" font-weight="normal" fill="#111" stroke="#111" stroke-width="0.1" >TBRΔa</text>
<line x1="399.50" y1="200.20" x2="399.50" y2="204.00" stroke="#000" stroke-width="0.9" />
<line x1="399.50" y1="315.60" x2="399.50" y2="311.80" stroke="#000" stroke-width="0.9" />
<text transform="translate(399.50,329.20) scale(1,1.15)" font-size="10.6" text-anchor="middle" font-weight="normal" fill="#111" stroke="#111" stroke-width="0.1" >CASP</text>
<text transform="translate(383.40,192.70) scale(1,1.15)" font-size="9.2" text-anchor="middle" font-weight="normal" fill="#111" stroke="#111" stroke-width="0.1" >TBR1</text>
<text transform="translate(414.70,192.70) scale(1,1.15)" font-size="9.2" text-anchor="middle" font-weight="normal" fill="#111" stroke="#111" stroke-width="0.1" >TBRΔa</text>
<line x1="551.90" y1="200.20" x2="551.90" y2="204.00" stroke="#000" stroke-width="0.9" />
<line x1="551.90" y1="315.60" x2="551.90" y2="311.80" stroke="#000" stroke-width="0.9" />
<text transform="translate(551.90,329.20) scale(1,1.15)" font-size="10.6" text-anchor="middle" font-weight="normal" fill="#111" stroke="#111" stroke-width="0.1" >FLC</text>
<text transform="translate(535.80,192.70) scale(1,1.15)" font-size="9.2" text-anchor="middle" font-weight="normal" fill="#111" stroke="#111" stroke-width="0.1" >TBR1</text>
<text transform="translate(567.10,192.70) scale(1,1.15)" font-size="9.2" text-anchor="middle" font-weight="normal" fill="#111" stroke="#111" stroke-width="0.1" >TBRΔa</text>
<text transform="translate(8.0,250.4) rotate(-90) scale(1.05,1)" font-size="10" text-anchor="middle" fill="#111">AUC</text>
<text transform="translate(9.60,350.30) scale(1,1.0)" font-size="16.5" text-anchor="start" font-weight="bold" fill="#000" stroke="#000" stroke-width="0.3" >f</text>
<text transform="translate(40.40,349.60) scale(1,1.1)" font-size="9.85" text-anchor="start" font-weight="bold" fill="#111" stroke="#111" stroke-width="0.3" >Piecewise Linear Fit</text>
<polygon points="148.6,339.6 161.2,344.7 148.6,349.8" fill="#1a0a3a"/>
<text transform="translate(175.60,349.50) scale(1,1.1)" font-size="9.85" text-anchor="start" font-weight="bold" fill="#111" stroke="#111" stroke-width="0.3" >Growth Curve Phasal Breakdown</text>
<polygon points="344.6,340.6 357.4,345.6 344.6,350.8" fill="#1a0a3a"/>
<text transform="translate(367.90,349.60) scale(1,1.1)" font-size="9.85" text-anchor="start" font-weight="bold" fill="#111" stroke="#111" stroke-width="0.3" >Phasal Characterization</text>
<rect x="42.5" y="365.8" width="69.1" height="68.80000000000001" fill="#fff"/>
<line x1="42.50" y1="379.20" x2="44.50" y2="379.20" stroke="#000" stroke-width="0.8" />
<line x1="111.60" y1="379.20" x2="109.60" y2="379.20" stroke="#000" stroke-width="0.8" />
<text transform="translate(38.80,383.60) scale(1,1.05)" font-size="12.4" text-anchor="end" font-weight="normal" fill="#111" stroke="#111" stroke-width="0.1" >0</text>
<line x1="42.50" y1="407.00" x2="44.50" y2="407.00" stroke="#000" stroke-width="0.8" />
<line x1="111.60" y1="407.00" x2="109.60" y2="407.00" stroke="#000" stroke-width="0.8" />
<text transform="translate(38.80,411.40) scale(1,1.05)" font-size="12.4" text-anchor="end" font-weight="normal" fill="#111" stroke="#111" stroke-width="0.1" >-1</text>
<line x1="42.50" y1="434.80" x2="44.50" y2="434.80" stroke="#000" stroke-width="0.8" />
<line x1="111.60" y1="434.80" x2="109.60" y2="434.80" stroke="#000" stroke-width="0.8" />
<text transform="translate(38.80,439.20) scale(1,1.05)" font-size="12.4" text-anchor="end" font-weight="normal" fill="#111" stroke="#111" stroke-width="0.1" >-2</text>
<line x1="46.50" y1="365.80" x2="46.50" y2="367.80" stroke="#000" stroke-width="0.8" />
<line x1="46.50" y1="434.60" x2="46.50" y2="432.60" stroke="#000" stroke-width="0.8" />
<text transform="translate(46.50,450.60) scale(1,1.05)" font-size="12.4" text-anchor="middle" font-weight="normal" fill="#111" stroke="#111" stroke-width="0.1" >0</text>
<line x1="63.00" y1="365.80" x2="63.00" y2="367.80" stroke="#000" stroke-width="0.8" />
<line x1="63.00" y1="434.60" x2="63.00" y2="432.60" stroke="#000" stroke-width="0.8" />
<text transform="translate(63.00,450.60) scale(1,1.05)" font-size="12.4" text-anchor="middle" font-weight="normal" fill="#111" stroke="#111" stroke-width="0.1" >20</text>
<line x1="79.50" y1="365.80" x2="79.50" y2="367.80" stroke="#000" stroke-width="0.8" />
<line x1="79.50" y1="434.60" x2="79.50" y2="432.60" stroke="#000" stroke-width="0.8" />
<text transform="translate(79.50,450.60) scale(1,1.05)" font-size="12.4" text-anchor="middle" font-weight="normal" fill="#111" stroke="#111" stroke-width="0.1" >40</text>
<line x1="96.00" y1="365.80" x2="96.00" y2="367.80" stroke="#000" stroke-width="0.8" />
<line x1="96.00" y1="434.60" x2="96.00" y2="432.60" stroke="#000" stroke-width="0.8" />
<text transform="translate(96.00,450.60) scale(1,1.05)" font-size="12.4" text-anchor="middle" font-weight="normal" fill="#111" stroke="#111" stroke-width="0.1" >60</text>
<text transform="translate(76.55,466.00) scale(1,1.15)" font-size="13.2" text-anchor="middle" font-weight="normal" fill="#111" stroke="#111" stroke-width="0.1" >Time (hrs)</text>
<text transform="translate(17.3,400.6) rotate(-90) scale(1.03,1)" font-size="13" text-anchor="middle" fill="#111">log(OD<tspan font-size="11.2" dy="7">600</tspan><tspan dy="-7">)</tspan></text>
<polyline points="48.2,426.4 53,388.8" fill="none" stroke="#50d080" stroke-width="1.8"/>
<path d="M53,388.8 L58,386.6 Q80,384.2 106.8,383" fill="none" stroke="#1a7a40" stroke-width="1.8"/>
<polyline points="48.2,426.4 64.5,421.8" fill="none" stroke="#e01848" stroke-width="1.8"/>
<polyline points="64.5,421.8 68,419 74.5,410.3" fill="none" stroke="#c00a20" stroke-width="1.8"/>
<path d="M74.5,410.3 L80,408.4 Q92,407 106.8,406" fill="none" stroke="#7a1020" stroke-width="1.8"/>
<rect x="42.5" y="365.8" width="69.1" height="68.80000000000001" fill="none" stroke="#000" stroke-width="1.5"/>
<circle cx="53" cy="388.8" r="3.4" fill="none" stroke="#000" stroke-width="1.3"/>
<circle cx="48.2" cy="426.4" r="3.4" fill="none" stroke="#000" stroke-width="1.3"/>
<circle cx="64.5" cy="421.8" r="3.4" fill="none" stroke="#000" stroke-width="1.3"/>
<circle cx="74.5" cy="410.3" r="3.4" fill="none" stroke="#000" stroke-width="1.3"/>
<text transform="translate(57.60,396.60) scale(1,1.15)" font-size="8.2" text-anchor="start" font-weight="bold" fill="#208040" stroke="#208040" stroke-width="0.3" >B1</text>
<text transform="translate(52.40,432.50) scale(1,1.15)" font-size="8.2" text-anchor="start" font-weight="bold" fill="#e8204c" stroke="#e8204c" stroke-width="0.3" >B1</text>
<text transform="translate(68.80,427.30) scale(1,1.15)" font-size="8.2" text-anchor="start" font-weight="bold" fill="#b01428" stroke="#b01428" stroke-width="0.3" >B2</text>
<text transform="translate(79.30,417.30) scale(1,1.15)" font-size="8.2" text-anchor="start" font-weight="bold" fill="#902030" stroke="#902030" stroke-width="0.3" >B3</text>
<line x1="172.10" y1="437.90" x2="174.10" y2="437.90" stroke="#000" stroke-width="0.8" />
<line x1="242.30" y1="437.90" x2="240.30" y2="437.90" stroke="#000" stroke-width="0.8" />
<text transform="translate(168.40,443.10) scale(1,1.0)" font-size="12.4" text-anchor="end" font-weight="normal" fill="#111" stroke="#111" stroke-width="0.1" >0</text>
<line x1="172.10" y1="402.65" x2="174.10" y2="402.65" stroke="#000" stroke-width="0.8" />
<line x1="242.30" y1="402.65" x2="240.30" y2="402.65" stroke="#000" stroke-width="0.8" />
<text transform="translate(168.40,407.85) scale(1,1.0)" font-size="12.4" text-anchor="end" font-weight="normal" fill="#111" stroke="#111" stroke-width="0.1" >50</text>
<line x1="172.10" y1="367.40" x2="174.10" y2="367.40" stroke="#000" stroke-width="0.8" />
<line x1="242.30" y1="367.40" x2="240.30" y2="367.40" stroke="#000" stroke-width="0.8" />
<text transform="translate(168.40,372.60) scale(1,1.0)" font-size="12.4" text-anchor="end" font-weight="normal" fill="#111" stroke="#111" stroke-width="0.1" >100</text>
<line x1="195.60" y1="367.40" x2="195.60" y2="369.40" stroke="#000" stroke-width="0.8" />
<line x1="218.50" y1="367.40" x2="218.50" y2="369.40" stroke="#000" stroke-width="0.8" />
<text transform="translate(145.2,402.5) rotate(-90) scale(1.05,1)" font-size="12.6" text-anchor="middle" fill="#111">Time (hrs)</text>
<rect x="188.40" y="388.40" width="14.40" height="44.20" fill="#106030" stroke="#000" stroke-width="1.1" />
<rect x="188.40" y="432.60" width="14.40" height="5.30" fill="#38d070" stroke="#000" stroke-width="1.1" />
<rect x="210.90" y="388.40" width="15.10" height="26.90" fill="#600008" stroke="#000" stroke-width="1.1" />
<rect x="210.90" y="415.30" width="15.10" height="8.00" fill="#c00010" stroke="#000" stroke-width="1.1" />
<rect x="210.90" y="423.30" width="15.10" height="12.90" fill="#ff1040" stroke="#000" stroke-width="1.1" />
<rect x="210.90" y="436.20" width="15.10" height="1.70" fill="#f86868" stroke="#000" stroke-width="1.1" />
<rect x="172.1" y="367.4" width="70.20000000000002" height="70.5" fill="none" stroke="#000" stroke-width="1.5"/>
<text transform="translate(199,452.2) rotate(-45)" font-size="12.2" text-anchor="middle" fill="#111">N</text>
<text transform="translate(223.5,452.2) rotate(-45)" font-size="12.2" text-anchor="middle" fill="#111">D</text>
<text transform="translate(254.6,362.6) rotate(-45)" font-size="12.2" text-anchor="middle" fill="#111">N</text>
<text transform="translate(272.5,362.6) rotate(-45)" font-size="12.2" text-anchor="middle" fill="#111">D</text>
<rect x="245.75" y="368.15" width="15.80" height="9.00" fill="#38c868" stroke="#000" stroke-width="1.3" />
<rect x="264.55" y="368.15" width="15.40" height="9.00" fill="#f86868" stroke="#000" stroke-width="1.3" />
<text transform="translate(282.50,377.05) scale(1,1.15)" font-size="10.2" text-anchor="start" font-weight="normal" fill="#111" stroke="#111" stroke-width="0.1" >PREGR</text>
<rect x="264.55" y="381.85" width="15.40" height="8.20" fill="#ff0838" stroke="#000" stroke-width="1.3" />
<text transform="translate(282.50,390.35) scale(1,1.15)" font-size="10.2" text-anchor="start" font-weight="normal" fill="#111" stroke="#111" stroke-width="0.1" >ADAPT</text>
<rect x="264.55" y="395.15" width="15.40" height="8.60" fill="#a00008" stroke="#000" stroke-width="1.3" />
<text transform="translate(282.50,403.85) scale(1,1.15)" font-size="10.2" text-anchor="start" font-weight="normal" fill="#111" stroke="#111" stroke-width="0.1" >REGR</text>
<rect x="245.75" y="408.45" width="15.80" height="8.40" fill="#106030" stroke="#000" stroke-width="1.3" />
<rect x="264.55" y="408.45" width="15.40" height="8.40" fill="#580008" stroke="#000" stroke-width="1.3" />
<text transform="translate(282.50,417.05) scale(1,1.15)" font-size="10.2" text-anchor="start" font-weight="normal" fill="#111" stroke="#111" stroke-width="0.1" >STAT</text>
<line x1="369.50" y1="436.50" x2="371.50" y2="436.50" stroke="#000" stroke-width="0.8" />
<line x1="440.50" y1="436.50" x2="438.50" y2="436.50" stroke="#000" stroke-width="0.8" />
<text transform="translate(366.00,441.70) scale(1,1.0)" font-size="12.4" text-anchor="end" font-weight="normal" fill="#111" stroke="#111" stroke-width="0.1" >0</text>
<line x1="369.50" y1="388.90" x2="371.50" y2="388.90" stroke="#000" stroke-width="0.8" />
<line x1="440.50" y1="388.90" x2="438.50" y2="388.90" stroke="#000" stroke-width="0.8" />
<text transform="translate(366.00,394.10) scale(1,1.0)" font-size="12.4" text-anchor="end" font-weight="normal" fill="#111" stroke="#111" stroke-width="0.1" >50</text>
<line x1="392.20" y1="367.60" x2="392.20" y2="369.60" stroke="#000" stroke-width="0.8" />
<line x1="392.20" y1="436.50" x2="392.20" y2="434.50" stroke="#000" stroke-width="0.8" />
<line x1="416.60" y1="367.60" x2="416.60" y2="369.60" stroke="#000" stroke-width="0.8" />
<line x1="416.60" y1="436.50" x2="416.60" y2="434.50" stroke="#000" stroke-width="0.8" />
<text transform="translate(348.6,402.2) rotate(-90) scale(1.05,1)" font-size="12.6" text-anchor="middle" fill="#111">Time (hrs)</text>
<rect x="387.40" y="429.50" width="4.60" height="7.00" fill="#38c868" stroke="#000" stroke-width="1.0" />
<rect x="392.00" y="375.40" width="4.90" height="61.10" fill="#106030" stroke="#000" stroke-width="1.0" />
<rect x="407.60" y="433.90" width="4.60" height="2.60" fill="#f86868" stroke="#000" stroke-width="1.0" />
<rect x="412.20" y="418.20" width="4.40" height="18.30" fill="#ff0838" stroke="#000" stroke-width="1.0" />
<rect x="416.60" y="425.80" width="4.40" height="10.70" fill="#a00008" stroke="#000" stroke-width="1.0" />
<rect x="421.00" y="399.30" width="4.80" height="37.20" fill="#580008" stroke="#000" stroke-width="1.0" />
<rect x="369.5" y="367.6" width="71.0" height="68.89999999999998" fill="none" stroke="#000" stroke-width="1.5"/>
<text transform="translate(397.5,452) rotate(-45)" font-size="12.2" text-anchor="middle" fill="#111">N</text>
<text transform="translate(421,452.2) rotate(-45)" font-size="12.2" text-anchor="middle" fill="#111">D</text>
<rect x="442.60" y="367.70" width="13.30" height="7.30" fill="#38c868" stroke="#000" stroke-width="1.4" />
<rect x="459.00" y="367.70" width="12.70" height="7.30" fill="#f86868" stroke="#000" stroke-width="1.4" />
<text transform="translate(474.40,376.70) scale(1,1.1)" font-size="9.8" text-anchor="start" font-weight="normal" fill="#111" stroke="#111" stroke-width="0.1" >T</text>
<text transform="translate(479.60,378.10) scale(1,1.05)" font-size="6.4" text-anchor="start" font-weight="bold" fill="#111" stroke="#111" stroke-width="0.1" >PREGR</text>
<rect x="459.00" y="378.90" width="12.70" height="7.30" fill="#ff0838" stroke="#000" stroke-width="1.4" />
<text transform="translate(474.40,387.90) scale(1,1.1)" font-size="9.8" text-anchor="start" font-weight="normal" fill="#111" stroke="#111" stroke-width="0.1" >T</text>
<text transform="translate(479.60,389.30) scale(1,1.05)" font-size="6.4" text-anchor="start" font-weight="bold" fill="#111" stroke="#111" stroke-width="0.1" >ADAPT</text>
<rect x="459.00" y="389.90" width="12.70" height="7.20" fill="#a00008" stroke="#000" stroke-width="1.4" />
<text transform="translate(474.40,398.80) scale(1,1.1)" font-size="9.8" text-anchor="start" font-weight="normal" fill="#111" stroke="#111" stroke-width="0.1" >T</text>
<text transform="translate(479.60,400.20) scale(1,1.05)" font-size="6.4" text-anchor="start" font-weight="bold" fill="#111" stroke="#111" stroke-width="0.1" >REGR</text>
<rect x="442.60" y="400.70" width="13.30" height="7.50" fill="#106030" stroke="#000" stroke-width="1.4" />
<rect x="459.00" y="400.70" width="12.70" height="7.50" fill="#580008" stroke="#000" stroke-width="1.4" />
<text transform="translate(474.40,409.90) scale(1,1.1)" font-size="9.8" text-anchor="start" font-weight="normal" fill="#111" stroke="#111" stroke-width="0.1" >T</text>
<text transform="translate(479.60,411.30) scale(1,1.05)" font-size="6.4" text-anchor="start" font-weight="bold" fill="#111" stroke="#111" stroke-width="0.1" >STAT</text>
<line x1="551.30" y1="436.30" x2="553.30" y2="436.30" stroke="#000" stroke-width="0.8" />
<line x1="620.40" y1="436.30" x2="618.40" y2="436.30" stroke="#000" stroke-width="0.8" />
<text transform="translate(546.40,441.50) scale(1,1.0)" font-size="12.4" text-anchor="end" font-weight="normal" fill="#111" stroke="#111" stroke-width="0.1" >0</text>
<line x1="551.30" y1="407.50" x2="553.30" y2="407.50" stroke="#000" stroke-width="0.8" />
<line x1="620.40" y1="407.50" x2="618.40" y2="407.50" stroke="#000" stroke-width="0.8" />
<text transform="translate(546.40,412.70) scale(1,1.0)" font-size="12.4" text-anchor="end" font-weight="normal" fill="#111" stroke="#111" stroke-width="0.1" >0.05</text>
<line x1="551.30" y1="378.70" x2="553.30" y2="378.70" stroke="#000" stroke-width="0.8" />
<line x1="620.40" y1="378.70" x2="618.40" y2="378.70" stroke="#000" stroke-width="0.8" />
<text transform="translate(546.40,383.90) scale(1,1.0)" font-size="12.4" text-anchor="end" font-weight="normal" fill="#111" stroke="#111" stroke-width="0.1" >0.1</text>
<line x1="574.40" y1="367.70" x2="574.40" y2="369.70" stroke="#000" stroke-width="0.8" />
<line x1="574.40" y1="436.30" x2="574.40" y2="434.30" stroke="#000" stroke-width="0.8" />
<line x1="597.40" y1="367.70" x2="597.40" y2="369.70" stroke="#000" stroke-width="0.8" />
<line x1="597.40" y1="436.30" x2="597.40" y2="434.30" stroke="#000" stroke-width="0.8" />
<text transform="translate(519.2,402.8) rotate(-90) scale(1.1,1)" font-size="12.6" text-anchor="middle" fill="#111">Slope (hrs<tspan font-size="8.5" dy="-3.8">-1</tspan><tspan dy="3.8">)</tspan></text>
<rect x="570.00" y="372.50" width="4.40" height="63.80" fill="#38c868" stroke="#000" stroke-width="1.0" />
<rect x="574.40" y="433.90" width="4.20" height="2.40" fill="#106030" stroke="#000" stroke-width="1.0" />
<rect x="589.10" y="404.10" width="4.40" height="32.20" fill="#f86868" stroke="#000" stroke-width="1.0" />
<rect x="593.50" y="431.60" width="3.90" height="4.70" fill="#ff0838" stroke="#000" stroke-width="1.0" />
<rect x="597.40" y="414.70" width="4.60" height="21.60" fill="#a00008" stroke="#000" stroke-width="1.0" />
<rect x="602.00" y="433.50" width="4.40" height="2.80" fill="#580008" stroke="#000" stroke-width="1.0" />
<rect x="551.3" y="367.7" width="69.10000000000002" height="68.60000000000002" fill="none" stroke="#000" stroke-width="1.5"/>
<text transform="translate(589.00,397.40) scale(1,1.15)" font-size="10" text-anchor="start" font-weight="normal" fill="#111" stroke="#111" stroke-width="0.1" >S</text>
<text transform="translate(595.40,399.80) scale(1,1.15)" font-size="6.4" text-anchor="start" font-weight="bold" fill="#111" stroke="#111" stroke-width="0.1" >REGR</text>
<text transform="translate(579,452) rotate(-45)" font-size="12.2" text-anchor="middle" fill="#111">N</text>
<text transform="translate(602.1,452.4) rotate(-45)" font-size="12.2" text-anchor="middle" fill="#111">D</text>
<rect x="624.40" y="368.60" width="12.90" height="7.10" fill="#38c868" stroke="#000" stroke-width="1.4" />
<rect x="640.70" y="368.60" width="12.40" height="7.10" fill="#f86868" stroke="#000" stroke-width="1.4" />
<text transform="translate(655.60,377.00) scale(1,1.1)" font-size="10" text-anchor="start" font-weight="normal" fill="#111" stroke="#111" stroke-width="0.1" >S</text>
<text transform="translate(661.00,378.80) scale(1,1.05)" font-size="6.4" text-anchor="start" font-weight="bold" fill="#111" stroke="#111" stroke-width="0.1" >PREGR</text>
<rect x="640.70" y="379.70" width="12.40" height="6.70" fill="#ff0838" stroke="#000" stroke-width="1.4" />
<text transform="translate(655.60,387.70) scale(1,1.1)" font-size="10" text-anchor="start" font-weight="normal" fill="#111" stroke="#111" stroke-width="0.1" >S</text>
<text transform="translate(661.00,389.50) scale(1,1.05)" font-size="6.4" text-anchor="start" font-weight="bold" fill="#111" stroke="#111" stroke-width="0.1" >ADAPT</text>
<rect x="640.70" y="390.40" width="12.40" height="6.90" fill="#a00008" stroke="#000" stroke-width="1.4" />
<rect x="624.40" y="401.40" width="12.90" height="6.80" fill="#106030" stroke="#000" stroke-width="1.4" />
<rect x="640.70" y="401.40" width="12.40" height="6.80" fill="#580008" stroke="#000" stroke-width="1.4" />
<text transform="translate(655.60,409.50) scale(1,1.1)" font-size="10" text-anchor="start" font-weight="normal" fill="#111" stroke="#111" stroke-width="0.1" >S</text>
<text transform="translate(661.00,411.30) scale(1,1.05)" font-size="6.4" text-anchor="start" font-weight="bold" fill="#111" stroke="#111" stroke-width="0.1" >STAT</text>
</svg></body></html>
